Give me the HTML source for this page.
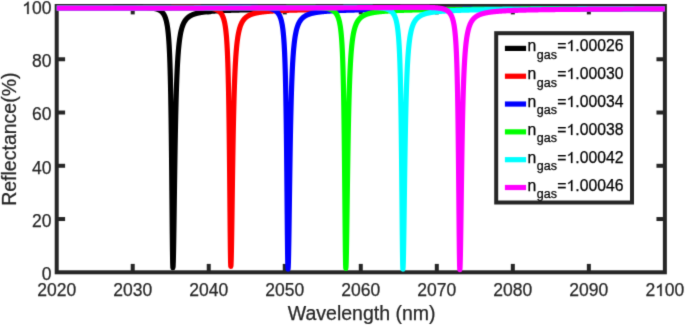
<!DOCTYPE html>
<html><head><meta charset="utf-8"><style>
html,body{margin:0;padding:0;background:#fff;width:685px;height:326px;overflow:hidden;}
svg{display:block;}
.o{fill-opacity:0;stroke-opacity:0;}
text{font-family:"Liberation Sans", sans-serif;stroke-width:0.25px;}
</style></head><body>
<svg width="685" height="326" viewBox="0 0 685 326">
<rect width="685" height="326" fill="#fff"/>
<defs><filter id="soft" filterUnits="userSpaceOnUse" x="0" y="0" width="685" height="326" color-interpolation-filters="sRGB"><feConvolveMatrix order="3" kernelMatrix="0.0144 0.0912 0.0144 0.0912 0.5776 0.0912 0.0144 0.0912 0.0144" edgeMode="duplicate"/></filter></defs>
<g filter="url(#soft)">
<g stroke="#262626" stroke-width="4"><rect x="56.70" y="6.00" width="608.16" height="266.30" fill="none" stroke="#262626" stroke-width="4"/><line x1="132.72" y1="272.30" x2="132.72" y2="263.90"/><line x1="132.72" y1="6.00" x2="132.72" y2="14.40"/><line x1="208.74" y1="272.30" x2="208.74" y2="263.90"/><line x1="208.74" y1="6.00" x2="208.74" y2="14.40"/><line x1="284.76" y1="272.30" x2="284.76" y2="263.90"/><line x1="284.76" y1="6.00" x2="284.76" y2="14.40"/><line x1="360.78" y1="272.30" x2="360.78" y2="263.90"/><line x1="360.78" y1="6.00" x2="360.78" y2="14.40"/><line x1="436.80" y1="272.30" x2="436.80" y2="263.90"/><line x1="436.80" y1="6.00" x2="436.80" y2="14.40"/><line x1="512.82" y1="272.30" x2="512.82" y2="263.90"/><line x1="512.82" y1="6.00" x2="512.82" y2="14.40"/><line x1="588.84" y1="272.30" x2="588.84" y2="263.90"/><line x1="588.84" y1="6.00" x2="588.84" y2="14.40"/><line x1="56.70" y1="219.04" x2="65.10" y2="219.04"/><line x1="664.86" y1="219.04" x2="656.46" y2="219.04"/><line x1="56.70" y1="165.78" x2="65.10" y2="165.78"/><line x1="664.86" y1="165.78" x2="656.46" y2="165.78"/><line x1="56.70" y1="112.52" x2="65.10" y2="112.52"/><line x1="664.86" y1="112.52" x2="656.46" y2="112.52"/><line x1="56.70" y1="59.26" x2="65.10" y2="59.26"/><line x1="664.86" y1="59.26" x2="656.46" y2="59.26"/></g>
<polyline points="56.70,7.78 57.70,7.77 58.70,7.77 59.70,7.76 60.70,7.76 61.70,7.76 62.70,7.75 63.70,7.75 64.70,7.75 65.70,7.74 66.70,7.74 67.70,7.73 68.70,7.73 69.70,7.73 70.70,7.72 71.70,7.72 72.70,7.71 73.70,7.71 74.70,7.70 75.70,7.70 76.70,7.69 77.70,7.69 78.70,7.68 79.70,7.68 80.70,7.67 81.70,7.67 82.70,7.66 83.70,7.66 84.70,7.65 85.70,7.65 86.70,7.64 87.70,7.64 88.70,7.63 89.70,7.63 90.70,7.62 91.70,7.62 92.70,7.61 93.70,7.60 94.70,7.60 95.70,7.59 96.70,7.59 97.70,7.58 98.70,7.57 99.70,7.57 100.70,7.56 101.70,7.55 102.70,7.55 103.70,7.54 104.70,7.53 105.70,7.53 106.70,7.52 107.70,7.51 108.70,7.51 109.70,7.50 110.70,7.49 111.70,7.49 112.70,7.48 113.70,7.47 114.70,7.47 115.70,7.46 116.70,7.45 117.70,7.44 118.70,7.44 119.70,7.43 120.70,7.42 121.70,7.42 122.70,7.41 123.70,7.41 124.70,7.40 125.70,7.40 126.70,7.39 127.70,7.39 128.70,7.38 129.70,7.38 130.70,7.38 131.70,7.37 132.70,7.37 132.90,7.37 133.10,7.37 133.30,7.37 133.50,7.37 133.70,7.37 133.90,7.38 134.10,7.38 134.30,7.38 134.50,7.38 134.70,7.38 134.90,7.38 135.10,7.38 135.30,7.38 135.50,7.38 135.70,7.38 135.90,7.38 136.10,7.38 136.30,7.38 136.50,7.38 136.70,7.39 136.90,7.39 137.10,7.39 137.30,7.39 137.50,7.39 137.70,7.39 137.90,7.39 138.10,7.40 138.30,7.40 138.50,7.40 138.70,7.40 138.90,7.41 139.10,7.41 139.30,7.41 139.50,7.41 139.70,7.42 139.90,7.42 140.10,7.42 140.30,7.42 140.50,7.43 140.70,7.43 140.90,7.43 141.10,7.44 141.30,7.44 141.50,7.45 141.70,7.45 141.90,7.45 142.10,7.46 142.30,7.46 142.50,7.47 142.70,7.47 142.90,7.48 143.10,7.49 143.30,7.49 143.50,7.50 143.70,7.50 143.90,7.51 144.10,7.52 144.30,7.52 144.50,7.53 144.70,7.54 144.90,7.54 145.10,7.55 145.30,7.56 145.50,7.57 145.70,7.58 145.90,7.59 146.10,7.60 146.30,7.61 146.50,7.62 146.70,7.63 146.90,7.64 147.10,7.65 147.30,7.66 147.50,7.67 147.70,7.69 147.90,7.70 148.10,7.71 148.30,7.73 148.50,7.74 148.70,7.75 148.90,7.77 149.10,7.79 149.30,7.80 149.50,7.82 149.70,7.84 149.90,7.85 150.10,7.87 150.30,7.89 150.50,7.91 150.70,7.93 150.90,7.95 151.10,7.98 151.30,8.00 151.50,8.02 151.70,8.05 151.90,8.07 152.10,8.10 152.30,8.13 152.50,8.16 152.70,8.18 152.90,8.22 153.10,8.25 153.30,8.28 153.50,8.31 153.70,8.35 153.90,8.38 154.10,8.42 154.30,8.46 154.50,8.50 154.70,8.54 154.90,8.58 155.10,8.63 155.30,8.68 155.50,8.72 155.70,8.77 155.90,8.83 156.10,8.88 156.30,8.94 156.50,8.99 156.70,9.05 156.90,9.12 157.10,9.18 157.30,9.25 157.50,9.32 157.70,9.39 157.90,9.47 158.10,9.55 158.30,9.63 158.50,9.72 158.70,9.81 158.90,9.90 159.10,10.00 159.30,10.11 159.50,10.21 159.70,10.32 159.90,10.44 160.10,10.56 160.30,10.69 160.50,10.82 160.70,10.97 160.90,11.11 161.10,11.27 161.30,11.43 161.50,11.60 161.70,11.78 161.90,11.97 162.10,12.16 162.30,12.37 162.50,12.59 162.70,12.83 162.90,13.07 163.10,13.33 163.30,13.61 163.50,13.90 163.70,14.21 163.90,14.54 164.10,14.89 164.30,15.27 164.50,15.67 164.70,16.09 164.90,16.55 165.10,17.04 165.30,17.57 165.50,18.13 165.70,18.74 165.90,19.40 166.10,20.11 166.30,20.88 166.50,21.71 166.70,22.63 166.90,23.62 167.10,24.71 167.30,25.90 167.50,27.21 167.70,28.66 167.90,30.26 168.10,32.04 168.30,34.03 168.50,36.24 168.70,38.73 168.90,41.53 169.10,44.70 169.30,48.29 169.50,52.39 169.70,57.08 169.90,62.47 170.10,68.70 170.30,75.90 170.50,84.27 170.70,94.00 170.90,105.33 171.10,118.47 171.30,133.65 171.50,150.96 171.70,170.33 171.90,191.34 172.10,213.06 172.30,233.86 172.50,251.51 172.70,263.49 172.90,267.77 173.10,266.17 173.30,260.81 173.50,252.18 173.70,240.97 173.90,227.97 174.10,213.92 174.30,199.50 174.50,185.21 174.70,171.44 174.90,158.44 175.10,146.33 175.30,135.18 175.50,124.99 175.70,115.72 175.90,107.34 176.10,99.76 176.30,92.91 176.50,86.74 176.70,81.16 176.90,76.13 177.10,71.57 177.30,67.44 177.50,63.69 177.70,60.29 177.90,57.19 178.10,54.36 178.30,51.77 178.50,49.40 178.70,47.22 178.90,45.23 179.10,43.38 179.30,41.68 179.50,40.11 179.70,38.66 179.90,37.31 180.10,36.05 180.30,34.89 180.50,33.80 180.70,32.78 180.90,31.83 181.10,30.94 181.30,30.11 181.50,29.32 181.70,28.59 181.90,27.89 182.10,27.24 182.30,26.62 182.50,26.04 182.70,25.49 182.90,24.97 183.10,24.48 183.30,24.01 183.50,23.56 183.70,23.14 183.90,22.74 184.10,22.35 184.30,21.99 184.50,21.64 184.70,21.31 184.90,20.99 185.10,20.69 185.30,20.40 185.50,20.12 185.70,19.85 185.90,19.60 186.10,19.35 186.30,19.12 186.50,18.89 186.70,18.67 186.90,18.47 187.10,18.26 187.30,18.07 187.50,17.88 187.70,17.70 187.90,17.53 188.10,17.36 188.30,17.20 188.50,17.05 188.70,16.90 188.90,16.75 189.10,16.61 189.30,16.47 189.50,16.34 189.70,16.21 189.90,16.09 190.10,15.97 190.30,15.85 190.50,15.74 190.70,15.63 190.90,15.52 191.10,15.42 191.30,15.32 191.50,15.22 191.70,15.12 191.90,15.03 192.10,14.94 192.30,14.85 192.50,14.77 192.70,14.69 192.90,14.61 193.10,14.53 193.30,14.45 193.50,14.38 193.70,14.30 193.90,14.23 194.10,14.16 194.30,14.09 194.50,14.03 194.70,13.96 194.90,13.90 195.10,13.84 195.30,13.78 195.50,13.72 195.70,13.66 195.90,13.61 196.10,13.55 196.30,13.50 196.50,13.44 196.70,13.39 196.90,13.34 197.10,13.29 197.30,13.24 197.50,13.20 197.70,13.15 197.90,13.10 198.10,13.06 198.30,13.02 198.50,12.97 198.70,12.93 198.90,12.89 199.10,12.85 199.30,12.81 199.50,12.77 199.70,12.73 199.90,12.69 200.10,12.66 200.30,12.62 200.50,12.58 200.70,12.55 200.90,12.51 201.10,12.48 201.30,12.45 201.50,12.42 201.70,12.38 201.90,12.35 202.10,12.32 202.30,12.29 202.50,12.26 202.70,12.23 202.90,12.20 203.10,12.17 203.30,12.14 203.50,12.12 203.70,12.09 203.90,12.06 204.10,12.04 204.30,12.01 204.50,11.98 204.70,11.96 204.90,11.93 205.10,11.91 205.30,11.88 205.50,11.86 205.70,11.84 205.90,11.81 206.10,11.79 206.30,11.77 206.50,11.75 206.70,11.72 206.90,11.70 207.10,11.68 207.30,11.66 207.50,11.64 207.70,11.62 207.90,11.60 208.10,11.58 208.30,11.56 208.50,11.54 208.70,11.52 208.90,11.50 209.10,11.48 209.30,11.46 209.50,11.45 209.70,11.43 209.90,11.41 210.10,11.39 210.30,11.38 210.50,11.36 210.70,11.34 210.90,11.32 211.10,11.31 211.30,11.29 211.50,11.28 211.70,11.26 211.90,11.24 212.10,11.23 212.30,11.21 212.50,11.20 212.70,11.18 212.90,11.17 213.10,11.15 213.30,11.14 213.50,11.12 213.70,11.11 213.90,11.10 214.10,11.08 214.30,11.07 214.50,11.05 214.70,11.04 214.90,11.03 215.10,11.01 215.30,11.00 215.50,10.99 215.70,10.97 215.90,10.96 216.10,10.95 216.30,10.94 216.50,10.92 216.70,10.91 216.90,10.90 217.10,10.89 217.30,10.88 217.50,10.86 217.70,10.85 217.90,10.84 218.10,10.83 218.30,10.82 218.50,10.81 218.70,10.80 218.90,10.79 219.10,10.78 219.30,10.76 219.50,10.75 219.70,10.74 219.90,10.73 220.10,10.72 220.30,10.71 220.50,10.70 220.70,10.69 220.90,10.68 221.10,10.67 221.30,10.66 221.50,10.65 221.70,10.64 221.90,10.63 222.10,10.62 222.30,10.61 222.50,10.61 222.70,10.60 222.90,10.59 223.10,10.58 223.30,10.57 223.50,10.56 223.70,10.55 223.90,10.54 224.10,10.53 224.30,10.52 224.50,10.52 224.70,10.51 224.90,10.50 225.10,10.49 225.30,10.48 225.50,10.47 225.70,10.47 225.90,10.46 226.10,10.45 226.30,10.44 226.50,10.43 226.70,10.43 226.90,10.42 227.10,10.41 227.30,10.40 227.50,10.40 227.70,10.39 227.90,10.38 228.10,10.37 228.30,10.37 228.50,10.36 228.70,10.35 228.90,10.34 229.10,10.34 229.30,10.33 229.50,10.32 229.70,10.32 229.90,10.31 230.10,10.30 230.30,10.30 230.50,10.29 230.70,10.28 230.90,10.28 231.10,10.27 231.30,10.26 231.50,10.26 231.70,10.25 231.90,10.24 232.10,10.24 232.30,10.23 232.50,10.22 232.70,10.22 232.90,10.21 233.90,10.18 234.90,10.15 235.90,10.12 236.90,10.09 237.90,10.07 238.90,10.04 239.90,10.02 240.90,9.99 241.90,9.97 242.90,9.94 243.90,9.92 244.90,9.90 245.90,9.88 246.90,9.86 247.90,9.84 248.90,9.82 249.90,9.80 250.90,9.78 251.90,9.76 252.90,9.75 253.90,9.73 254.90,9.71 255.90,9.70 256.90,9.68 257.90,9.66 258.90,9.65 259.90,9.63 260.90,9.62 261.90,9.60 262.90,9.59 263.90,9.58 264.90,9.56 265.90,9.55 266.90,9.54 267.90,9.53 268.90,9.51 269.90,9.50 270.90,9.49 271.90,9.48 272.90,9.47 273.90,9.45 274.90,9.44 275.90,9.43 276.90,9.42 277.90,9.41 278.90,9.40 279.90,9.39 280.90,9.38 281.90,9.37 282.90,9.36 283.90,9.35 284.90,9.34 285.90,9.34 286.90,9.33 287.90,9.32 288.90,9.31 289.90,9.30 290.90,9.29 291.90,9.29 292.90,9.28 293.90,9.27 294.90,9.26 295.90,9.25 296.90,9.25 297.90,9.24 298.90,9.23 299.90,9.22 300.90,9.22 301.90,9.21 302.90,9.20 303.90,9.20 304.90,9.19 305.90,9.18 306.90,9.18 307.90,9.17 308.90,9.16 309.90,9.16 310.90,9.15 311.90,9.15 312.90,9.14 313.90,9.13 314.90,9.13 315.90,9.12 316.90,9.12 317.90,9.11 318.90,9.11 319.90,9.10 320.90,9.10 321.90,9.09 322.90,9.09 323.90,9.08 324.90,9.08 325.90,9.07 326.90,9.07 327.90,9.06 328.90,9.06 329.90,9.05 330.90,9.05 331.90,9.04 332.90,9.04 333.90,9.03 334.90,9.03 335.90,9.02 336.90,9.02 337.90,9.01 338.90,9.01 339.90,9.01 340.90,9.00 341.90,9.00 342.90,8.99 343.90,8.99 344.90,8.99 345.90,8.98 346.90,8.98 347.90,8.97 348.90,8.97 349.90,8.97 350.90,8.96 351.90,8.96 352.90,8.96 353.90,8.95 354.90,8.95 355.90,8.94 356.90,8.94 357.90,8.94 358.90,8.93 359.90,8.93 360.90,8.93 361.90,8.92 362.90,8.92 363.90,8.92 364.90,8.91 365.90,8.91 366.90,8.91 367.90,8.90 368.90,8.90 369.90,8.90 370.90,8.90 371.90,8.89 372.90,8.89 373.90,8.89 374.90,8.88 375.90,8.88 376.90,8.88 377.90,8.88 378.90,8.87 379.90,8.87 380.90,8.87 381.90,8.86 382.90,8.86 383.90,8.86 384.90,8.86 385.90,8.85 386.90,8.85 387.90,8.85 388.90,8.85 389.90,8.84 390.90,8.84 391.90,8.84 392.90,8.84 393.90,8.83 394.90,8.83 395.90,8.83 396.90,8.83 397.90,8.82 398.90,8.82 399.90,8.82 400.90,8.82 401.90,8.81 402.90,8.81 403.90,8.81 404.90,8.81 405.90,8.80 406.90,8.80 407.90,8.80 408.90,8.80 409.90,8.80 410.90,8.79 411.90,8.79 412.90,8.79 413.90,8.79 414.90,8.79 415.90,8.78 416.90,8.78 417.90,8.78 418.90,8.78 419.90,8.78 420.90,8.77 421.90,8.77 422.90,8.77 423.90,8.77 424.90,8.77 425.90,8.76 426.90,8.76 427.90,8.76 428.90,8.76 429.90,8.76 430.90,8.75 431.90,8.75 432.90,8.75 433.90,8.75 434.90,8.75 435.90,8.75 436.90,8.74 437.90,8.74 438.90,8.74 439.90,8.74 440.90,8.74 441.90,8.74 442.90,8.73 443.90,8.73 444.90,8.73 445.90,8.73 446.90,8.73 447.90,8.73 448.90,8.72 449.90,8.72 450.90,8.72 451.90,8.72 452.90,8.72 453.90,8.72 454.90,8.71 455.90,8.71 456.90,8.71 457.90,8.71 458.90,8.71 459.90,8.71 460.90,8.71 461.90,8.70 462.90,8.70 463.90,8.70 464.90,8.70 465.90,8.70 466.90,8.70 467.90,8.70 468.90,8.69 469.90,8.69 470.90,8.69 471.90,8.69 472.90,8.69 473.90,8.69 474.90,8.69 475.90,8.68 476.90,8.68 477.90,8.68 478.90,8.68 479.90,8.68 480.90,8.68 481.90,8.68 482.90,8.68 483.90,8.67 484.90,8.67 485.90,8.67 486.90,8.67 487.90,8.67 488.90,8.67 489.90,8.67 490.90,8.67 491.90,8.66 492.90,8.66 493.90,8.66 494.90,8.66 495.90,8.66 496.90,8.66 497.90,8.66 498.90,8.66 499.90,8.65 500.90,8.65 501.90,8.65 502.90,8.65 503.90,8.65 504.90,8.65 505.90,8.65 506.90,8.65 507.90,8.65 508.90,8.64 509.90,8.64 510.90,8.64 511.90,8.64 512.90,8.64 513.90,8.64 514.90,8.64 515.90,8.64 516.90,8.64 517.90,8.63 518.90,8.63 519.90,8.63 520.90,8.63 521.90,8.63 522.90,8.63 523.90,8.63 524.90,8.63 525.90,8.63 526.90,8.63 527.90,8.62 528.90,8.62 529.90,8.62 530.90,8.62 531.90,8.62 532.90,8.62 533.90,8.62 534.90,8.62 535.90,8.62 536.90,8.62 537.90,8.62 538.90,8.61 539.90,8.61 540.90,8.61 541.90,8.61 542.90,8.61 543.90,8.61 544.90,8.61 545.90,8.61 546.90,8.61 547.90,8.61 548.90,8.61 549.90,8.60 550.90,8.60 551.90,8.60 552.90,8.60 553.90,8.60 554.90,8.60 555.90,8.60 556.90,8.60 557.90,8.60 558.90,8.60 559.90,8.60 560.90,8.60 561.90,8.59 562.90,8.59 563.90,8.59 564.90,8.59 565.90,8.59 566.90,8.59 567.90,8.59 568.90,8.59 569.90,8.59 570.90,8.59 571.90,8.59 572.90,8.59 573.90,8.58 574.90,8.58 575.90,8.58 576.90,8.58 577.90,8.58 578.90,8.58 579.90,8.58 580.90,8.58 581.90,8.58 582.90,8.58 583.90,8.58 584.90,8.58 585.90,8.58 586.90,8.57 587.90,8.57 588.90,8.57 589.90,8.57 590.90,8.57 591.90,8.57 592.90,8.57 593.90,8.57 594.90,8.57 595.90,8.57 596.90,8.57 597.90,8.57 598.90,8.57 599.90,8.57 600.90,8.56 601.90,8.56 602.90,8.56 603.90,8.56 604.90,8.56 605.90,8.56 606.90,8.56 607.90,8.56 608.90,8.56 609.90,8.56 610.90,8.56 611.90,8.56 612.90,8.56 613.90,8.56 614.90,8.56 615.90,8.56 616.90,8.55 617.90,8.55 618.90,8.55 619.90,8.55 620.90,8.55 621.90,8.55 622.90,8.55 623.90,8.55 624.90,8.55 625.90,8.55 626.90,8.55 627.90,8.55 628.90,8.55 629.90,8.55 630.90,8.55 631.90,8.55 632.90,8.54 633.90,8.54 634.90,8.54 635.90,8.54 636.90,8.54 637.90,8.54 638.90,8.54 639.90,8.54 640.90,8.54 641.90,8.54 642.90,8.54 643.90,8.54 644.90,8.54 645.90,8.54 646.90,8.54 647.90,8.54 648.90,8.54 649.90,8.53 650.90,8.53 651.90,8.53 652.90,8.53 653.90,8.53 654.90,8.53 655.90,8.53 656.90,8.53 657.90,8.53 658.90,8.53 659.90,8.53 660.90,8.53 661.90,8.53 662.90,8.53 663.90,8.53 664.80,8.53" fill="none" stroke="#000000" stroke-width="5.2" stroke-linejoin="round" stroke-linecap="butt"/>
<polyline points="56.70,7.92 57.70,7.92 58.70,7.92 59.70,7.92 60.70,7.91 61.70,7.91 62.70,7.91 63.70,7.91 64.70,7.91 65.70,7.90 66.70,7.90 67.70,7.90 68.70,7.90 69.70,7.90 70.70,7.89 71.70,7.89 72.70,7.89 73.70,7.89 74.70,7.89 75.70,7.88 76.70,7.88 77.70,7.88 78.70,7.88 79.70,7.88 80.70,7.87 81.70,7.87 82.70,7.87 83.70,7.87 84.70,7.86 85.70,7.86 86.70,7.86 87.70,7.86 88.70,7.85 89.70,7.85 90.70,7.85 91.70,7.85 92.70,7.84 93.70,7.84 94.70,7.84 95.70,7.83 96.70,7.83 97.70,7.83 98.70,7.83 99.70,7.82 100.70,7.82 101.70,7.82 102.70,7.81 103.70,7.81 104.70,7.81 105.70,7.81 106.70,7.80 107.70,7.80 108.70,7.80 109.70,7.79 110.70,7.79 111.70,7.79 112.70,7.78 113.70,7.78 114.70,7.77 115.70,7.77 116.70,7.77 117.70,7.76 118.70,7.76 119.70,7.76 120.70,7.75 121.70,7.75 122.70,7.74 123.70,7.74 124.70,7.74 125.70,7.73 126.70,7.73 127.70,7.72 128.70,7.72 129.70,7.72 130.70,7.71 131.70,7.71 132.70,7.70 133.70,7.70 134.70,7.69 135.70,7.69 136.70,7.68 137.70,7.68 138.70,7.67 139.70,7.67 140.70,7.66 141.70,7.66 142.70,7.65 143.70,7.65 144.70,7.64 145.70,7.64 146.70,7.63 147.70,7.63 148.70,7.62 149.70,7.61 150.70,7.61 151.70,7.60 152.70,7.60 153.70,7.59 154.70,7.59 155.70,7.58 156.70,7.57 157.70,7.57 158.70,7.56 159.70,7.55 160.70,7.55 161.70,7.54 162.70,7.53 163.70,7.53 164.70,7.52 165.70,7.51 166.70,7.51 167.70,7.50 168.70,7.49 169.70,7.48 170.70,7.48 171.70,7.47 172.70,7.46 173.70,7.46 174.70,7.45 175.70,7.44 176.70,7.44 177.70,7.43 178.70,7.42 179.70,7.42 180.70,7.41 181.70,7.40 182.70,7.40 183.70,7.39 184.70,7.39 185.70,7.38 186.70,7.38 187.70,7.38 188.70,7.37 189.70,7.37 190.70,7.37 190.80,7.37 191.00,7.37 191.20,7.37 191.40,7.37 191.60,7.37 191.80,7.37 192.00,7.37 192.20,7.37 192.40,7.37 192.60,7.37 192.80,7.38 193.00,7.38 193.20,7.38 193.40,7.38 193.60,7.38 193.80,7.38 194.00,7.38 194.20,7.38 194.40,7.38 194.60,7.38 194.80,7.38 195.00,7.39 195.20,7.39 195.40,7.39 195.60,7.39 195.80,7.39 196.00,7.39 196.20,7.40 196.40,7.40 196.60,7.40 196.80,7.40 197.00,7.40 197.20,7.41 197.40,7.41 197.60,7.41 197.80,7.42 198.00,7.42 198.20,7.42 198.40,7.42 198.60,7.43 198.80,7.43 199.00,7.44 199.20,7.44 199.40,7.44 199.60,7.45 199.80,7.45 200.00,7.46 200.20,7.46 200.40,7.47 200.60,7.47 200.80,7.48 201.00,7.48 201.20,7.49 201.40,7.49 201.60,7.50 201.80,7.51 202.00,7.51 202.20,7.52 202.40,7.53 202.60,7.53 202.80,7.54 203.00,7.55 203.20,7.56 203.40,7.57 203.60,7.57 203.80,7.58 204.00,7.59 204.20,7.60 204.40,7.61 204.60,7.62 204.80,7.63 205.00,7.64 205.20,7.66 205.40,7.67 205.60,7.68 205.80,7.69 206.00,7.71 206.20,7.72 206.40,7.73 206.60,7.75 206.80,7.76 207.00,7.78 207.20,7.80 207.40,7.81 207.60,7.83 207.80,7.85 208.00,7.87 208.20,7.89 208.40,7.91 208.60,7.93 208.80,7.95 209.00,7.97 209.20,7.99 209.40,8.02 209.60,8.04 209.80,8.07 210.00,8.09 210.20,8.12 210.40,8.15 210.60,8.18 210.80,8.21 211.00,8.24 211.20,8.27 211.40,8.30 211.60,8.34 211.80,8.37 212.00,8.41 212.20,8.45 212.40,8.49 212.60,8.53 212.80,8.57 213.00,8.62 213.20,8.67 213.40,8.71 213.60,8.76 213.80,8.82 214.00,8.87 214.20,8.92 214.40,8.98 214.60,9.04 214.80,9.11 215.00,9.17 215.20,9.24 215.40,9.31 215.60,9.38 215.80,9.46 216.00,9.54 216.20,9.62 216.40,9.71 216.60,9.80 216.80,9.89 217.00,9.99 217.20,10.09 217.40,10.19 217.60,10.31 217.80,10.42 218.00,10.54 218.20,10.67 218.40,10.80 218.60,10.94 218.80,11.09 219.00,11.24 219.20,11.41 219.40,11.57 219.60,11.75 219.80,11.94 220.00,12.14 220.20,12.35 220.40,12.57 220.60,12.80 220.80,13.04 221.00,13.30 221.20,13.58 221.40,13.87 221.60,14.18 221.80,14.50 222.00,14.85 222.20,15.23 222.40,15.62 222.60,16.05 222.80,16.50 223.00,16.99 223.20,17.51 223.40,18.07 223.60,18.68 223.80,19.33 224.00,20.04 224.20,20.81 224.40,21.64 224.60,22.55 224.80,23.54 225.00,24.62 225.20,25.81 225.40,27.11 225.60,28.55 225.80,30.15 226.00,31.92 226.20,33.89 226.40,36.09 226.60,38.57 226.80,41.35 227.00,44.51 227.20,48.08 227.40,52.16 227.60,56.83 227.80,62.19 228.00,68.38 228.20,75.55 228.40,83.88 228.60,93.56 228.80,104.83 229.00,117.91 229.20,133.00 229.40,150.22 229.60,169.50 229.80,190.40 230.00,212.01 230.20,232.70 230.40,250.26 230.60,262.18 230.80,266.44 231.00,264.84 231.20,259.52 231.40,250.93 231.60,239.79 231.80,226.85 232.00,212.88 232.20,198.53 232.40,184.31 232.60,170.62 232.80,157.68 233.00,145.63 233.20,134.54 233.40,124.40 233.60,115.19 233.80,106.84 234.00,99.30 234.20,92.50 234.40,86.35 234.60,80.81 234.80,75.79 235.00,71.26 235.20,67.15 235.40,63.43 235.60,60.04 235.80,56.95 236.00,54.14 236.20,51.56 236.40,49.21 236.60,47.04 236.80,45.05 237.00,43.22 237.20,41.53 237.40,39.97 237.60,38.52 237.80,37.18 238.00,35.93 238.20,34.77 238.40,33.69 238.60,32.67 238.80,31.73 239.00,30.84 239.20,30.01 239.40,29.23 239.60,28.50 239.80,27.81 240.00,27.16 240.20,26.55 240.40,25.97 240.60,25.42 240.80,24.90 241.00,24.41 241.20,23.95 241.40,23.50 241.60,23.08 241.80,22.68 242.00,22.30 242.20,21.94 242.40,21.59 242.60,21.26 242.80,20.94 243.00,20.64 243.20,20.35 243.40,20.08 243.60,19.81 243.80,19.56 244.00,19.31 244.20,19.08 244.40,18.85 244.60,18.64 244.80,18.43 245.00,18.23 245.20,18.04 245.40,17.85 245.60,17.67 245.80,17.50 246.00,17.33 246.20,17.17 246.40,17.02 246.60,16.87 246.80,16.72 247.00,16.58 247.20,16.45 247.40,16.31 247.60,16.19 247.80,16.06 248.00,15.94 248.20,15.83 248.40,15.72 248.60,15.61 248.80,15.50 249.00,15.40 249.20,15.30 249.40,15.20 249.60,15.10 249.80,15.01 250.00,14.92 250.20,14.84 250.40,14.75 250.60,14.67 250.80,14.59 251.00,14.51 251.20,14.43 251.40,14.36 251.60,14.29 251.80,14.22 252.00,14.15 252.20,14.08 252.40,14.01 252.60,13.95 252.80,13.89 253.00,13.82 253.20,13.76 253.40,13.71 253.60,13.65 253.80,13.59 254.00,13.54 254.20,13.48 254.40,13.43 254.60,13.38 254.80,13.33 255.00,13.28 255.20,13.23 255.40,13.18 255.60,13.14 255.80,13.09 256.00,13.05 256.20,13.00 256.40,12.96 256.60,12.92 256.80,12.88 257.00,12.84 257.20,12.80 257.40,12.76 257.60,12.72 257.80,12.68 258.00,12.65 258.20,12.61 258.40,12.58 258.60,12.54 258.80,12.51 259.00,12.47 259.20,12.44 259.40,12.41 259.60,12.37 259.80,12.34 260.00,12.31 260.20,12.28 260.40,12.25 260.60,12.22 260.80,12.19 261.00,12.16 261.20,12.14 261.40,12.11 261.60,12.08 261.80,12.05 262.00,12.03 262.20,12.00 262.40,11.98 262.60,11.95 262.80,11.93 263.00,11.90 263.20,11.88 263.40,11.85 263.60,11.83 263.80,11.81 264.00,11.78 264.20,11.76 264.40,11.74 264.60,11.72 264.80,11.70 265.00,11.68 265.20,11.65 265.40,11.63 265.60,11.61 265.80,11.59 266.00,11.57 266.20,11.55 266.40,11.53 266.60,11.51 266.80,11.50 267.00,11.48 267.20,11.46 267.40,11.44 267.60,11.42 267.80,11.40 268.00,11.39 268.20,11.37 268.40,11.35 268.60,11.34 268.80,11.32 269.00,11.30 269.20,11.29 269.40,11.27 269.60,11.25 269.80,11.24 270.00,11.22 270.20,11.21 270.40,11.19 270.60,11.18 270.80,11.16 271.00,11.15 271.20,11.13 271.40,11.12 271.60,11.10 271.80,11.09 272.00,11.08 272.20,11.06 272.40,11.05 272.60,11.04 272.80,11.02 273.00,11.01 273.20,11.00 273.40,10.98 273.60,10.97 273.80,10.96 274.00,10.95 274.20,10.93 274.40,10.92 274.60,10.91 274.80,10.90 275.00,10.88 275.20,10.87 275.40,10.86 275.60,10.85 275.80,10.84 276.00,10.83 276.20,10.82 276.40,10.80 276.60,10.79 276.80,10.78 277.00,10.77 277.20,10.76 277.40,10.75 277.60,10.74 277.80,10.73 278.00,10.72 278.20,10.71 278.40,10.70 278.60,10.69 278.80,10.68 279.00,10.67 279.20,10.66 279.40,10.65 279.60,10.64 279.80,10.63 280.00,10.62 280.20,10.61 280.40,10.60 280.60,10.59 280.80,10.58 281.00,10.57 281.20,10.57 281.40,10.56 281.60,10.55 281.80,10.54 282.00,10.53 282.20,10.52 282.40,10.51 282.60,10.51 282.80,10.50 283.00,10.49 283.20,10.48 283.40,10.47 283.60,10.46 283.80,10.46 284.00,10.45 284.20,10.44 284.40,10.43 284.60,10.42 284.80,10.42 285.00,10.41 285.20,10.40 285.40,10.39 285.60,10.39 285.80,10.38 286.00,10.37 286.20,10.36 286.40,10.36 286.60,10.35 286.80,10.34 287.00,10.34 287.20,10.33 287.40,10.32 287.60,10.31 287.80,10.31 288.00,10.30 288.20,10.29 288.40,10.29 288.60,10.28 288.80,10.27 289.00,10.27 289.20,10.26 289.40,10.25 289.60,10.25 289.80,10.24 290.00,10.23 290.20,10.23 290.40,10.22 290.60,10.22 290.80,10.21 291.80,10.18 292.80,10.15 293.80,10.12 294.80,10.09 295.80,10.07 296.80,10.04 297.80,10.01 298.80,9.99 299.80,9.97 300.80,9.94 301.80,9.92 302.80,9.90 303.80,9.88 304.80,9.86 305.80,9.84 306.80,9.82 307.80,9.80 308.80,9.78 309.80,9.76 310.80,9.74 311.80,9.73 312.80,9.71 313.80,9.69 314.80,9.68 315.80,9.66 316.80,9.65 317.80,9.63 318.80,9.62 319.80,9.60 320.80,9.59 321.80,9.58 322.80,9.56 323.80,9.55 324.80,9.54 325.80,9.52 326.80,9.51 327.80,9.50 328.80,9.49 329.80,9.48 330.80,9.47 331.80,9.45 332.80,9.44 333.80,9.43 334.80,9.42 335.80,9.41 336.80,9.40 337.80,9.39 338.80,9.38 339.80,9.37 340.80,9.36 341.80,9.35 342.80,9.34 343.80,9.34 344.80,9.33 345.80,9.32 346.80,9.31 347.80,9.30 348.80,9.29 349.80,9.28 350.80,9.28 351.80,9.27 352.80,9.26 353.80,9.25 354.80,9.25 355.80,9.24 356.80,9.23 357.80,9.22 358.80,9.22 359.80,9.21 360.80,9.20 361.80,9.20 362.80,9.19 363.80,9.18 364.80,9.18 365.80,9.17 366.80,9.16 367.80,9.16 368.80,9.15 369.80,9.15 370.80,9.14 371.80,9.13 372.80,9.13 373.80,9.12 374.80,9.12 375.80,9.11 376.80,9.11 377.80,9.10 378.80,9.10 379.80,9.09 380.80,9.09 381.80,9.08 382.80,9.07 383.80,9.07 384.80,9.06 385.80,9.06 386.80,9.06 387.80,9.05 388.80,9.05 389.80,9.04 390.80,9.04 391.80,9.03 392.80,9.03 393.80,9.02 394.80,9.02 395.80,9.01 396.80,9.01 397.80,9.01 398.80,9.00 399.80,9.00 400.80,8.99 401.80,8.99 402.80,8.99 403.80,8.98 404.80,8.98 405.80,8.97 406.80,8.97 407.80,8.97 408.80,8.96 409.80,8.96 410.80,8.96 411.80,8.95 412.80,8.95 413.80,8.94 414.80,8.94 415.80,8.94 416.80,8.93 417.80,8.93 418.80,8.93 419.80,8.92 420.80,8.92 421.80,8.92 422.80,8.91 423.80,8.91 424.80,8.91 425.80,8.90 426.80,8.90 427.80,8.90 428.80,8.90 429.80,8.89 430.80,8.89 431.80,8.89 432.80,8.88 433.80,8.88 434.80,8.88 435.80,8.87 436.80,8.87 437.80,8.87 438.80,8.87 439.80,8.86 440.80,8.86 441.80,8.86 442.80,8.86 443.80,8.85 444.80,8.85 445.80,8.85 446.80,8.85 447.80,8.84 448.80,8.84 449.80,8.84 450.80,8.84 451.80,8.83 452.80,8.83 453.80,8.83 454.80,8.83 455.80,8.82 456.80,8.82 457.80,8.82 458.80,8.82 459.80,8.81 460.80,8.81 461.80,8.81 462.80,8.81 463.80,8.80 464.80,8.80 465.80,8.80 466.80,8.80 467.80,8.80 468.80,8.79 469.80,8.79 470.80,8.79 471.80,8.79 472.80,8.79 473.80,8.78 474.80,8.78 475.80,8.78 476.80,8.78 477.80,8.78 478.80,8.77 479.80,8.77 480.80,8.77 481.80,8.77 482.80,8.77 483.80,8.76 484.80,8.76 485.80,8.76 486.80,8.76 487.80,8.76 488.80,8.75 489.80,8.75 490.80,8.75 491.80,8.75 492.80,8.75 493.80,8.75 494.80,8.74 495.80,8.74 496.80,8.74 497.80,8.74 498.80,8.74 499.80,8.74 500.80,8.73 501.80,8.73 502.80,8.73 503.80,8.73 504.80,8.73 505.80,8.73 506.80,8.72 507.80,8.72 508.80,8.72 509.80,8.72 510.80,8.72 511.80,8.72 512.80,8.71 513.80,8.71 514.80,8.71 515.80,8.71 516.80,8.71 517.80,8.71 518.80,8.71 519.80,8.70 520.80,8.70 521.80,8.70 522.80,8.70 523.80,8.70 524.80,8.70 525.80,8.70 526.80,8.69 527.80,8.69 528.80,8.69 529.80,8.69 530.80,8.69 531.80,8.69 532.80,8.69 533.80,8.68 534.80,8.68 535.80,8.68 536.80,8.68 537.80,8.68 538.80,8.68 539.80,8.68 540.80,8.68 541.80,8.67 542.80,8.67 543.80,8.67 544.80,8.67 545.80,8.67 546.80,8.67 547.80,8.67 548.80,8.67 549.80,8.66 550.80,8.66 551.80,8.66 552.80,8.66 553.80,8.66 554.80,8.66 555.80,8.66 556.80,8.66 557.80,8.65 558.80,8.65 559.80,8.65 560.80,8.65 561.80,8.65 562.80,8.65 563.80,8.65 564.80,8.65 565.80,8.65 566.80,8.64 567.80,8.64 568.80,8.64 569.80,8.64 570.80,8.64 571.80,8.64 572.80,8.64 573.80,8.64 574.80,8.64 575.80,8.63 576.80,8.63 577.80,8.63 578.80,8.63 579.80,8.63 580.80,8.63 581.80,8.63 582.80,8.63 583.80,8.63 584.80,8.63 585.80,8.62 586.80,8.62 587.80,8.62 588.80,8.62 589.80,8.62 590.80,8.62 591.80,8.62 592.80,8.62 593.80,8.62 594.80,8.62 595.80,8.62 596.80,8.61 597.80,8.61 598.80,8.61 599.80,8.61 600.80,8.61 601.80,8.61 602.80,8.61 603.80,8.61 604.80,8.61 605.80,8.61 606.80,8.61 607.80,8.60 608.80,8.60 609.80,8.60 610.80,8.60 611.80,8.60 612.80,8.60 613.80,8.60 614.80,8.60 615.80,8.60 616.80,8.60 617.80,8.60 618.80,8.60 619.80,8.59 620.80,8.59 621.80,8.59 622.80,8.59 623.80,8.59 624.80,8.59 625.80,8.59 626.80,8.59 627.80,8.59 628.80,8.59 629.80,8.59 630.80,8.59 631.80,8.58 632.80,8.58 633.80,8.58 634.80,8.58 635.80,8.58 636.80,8.58 637.80,8.58 638.80,8.58 639.80,8.58 640.80,8.58 641.80,8.58 642.80,8.58 643.80,8.58 644.80,8.57 645.80,8.57 646.80,8.57 647.80,8.57 648.80,8.57 649.80,8.57 650.80,8.57 651.80,8.57 652.80,8.57 653.80,8.57 654.80,8.57 655.80,8.57 656.80,8.57 657.80,8.57 658.80,8.56 659.80,8.56 660.80,8.56 661.80,8.56 662.80,8.56 663.80,8.56 664.80,8.56" fill="none" stroke="#ff0000" stroke-width="5.2" stroke-linejoin="round" stroke-linecap="butt"/>
<polyline points="56.70,8.00 57.70,8.00 58.70,8.00 59.70,8.00 60.70,8.00 61.70,8.00 62.70,7.99 63.70,7.99 64.70,7.99 65.70,7.99 66.70,7.99 67.70,7.99 68.70,7.99 69.70,7.99 70.70,7.99 71.70,7.98 72.70,7.98 73.70,7.98 74.70,7.98 75.70,7.98 76.70,7.98 77.70,7.98 78.70,7.98 79.70,7.97 80.70,7.97 81.70,7.97 82.70,7.97 83.70,7.97 84.70,7.97 85.70,7.97 86.70,7.96 87.70,7.96 88.70,7.96 89.70,7.96 90.70,7.96 91.70,7.96 92.70,7.96 93.70,7.95 94.70,7.95 95.70,7.95 96.70,7.95 97.70,7.95 98.70,7.95 99.70,7.95 100.70,7.94 101.70,7.94 102.70,7.94 103.70,7.94 104.70,7.94 105.70,7.94 106.70,7.93 107.70,7.93 108.70,7.93 109.70,7.93 110.70,7.93 111.70,7.93 112.70,7.92 113.70,7.92 114.70,7.92 115.70,7.92 116.70,7.92 117.70,7.91 118.70,7.91 119.70,7.91 120.70,7.91 121.70,7.91 122.70,7.91 123.70,7.90 124.70,7.90 125.70,7.90 126.70,7.90 127.70,7.90 128.70,7.89 129.70,7.89 130.70,7.89 131.70,7.89 132.70,7.88 133.70,7.88 134.70,7.88 135.70,7.88 136.70,7.88 137.70,7.87 138.70,7.87 139.70,7.87 140.70,7.87 141.70,7.86 142.70,7.86 143.70,7.86 144.70,7.86 145.70,7.85 146.70,7.85 147.70,7.85 148.70,7.85 149.70,7.84 150.70,7.84 151.70,7.84 152.70,7.84 153.70,7.83 154.70,7.83 155.70,7.83 156.70,7.82 157.70,7.82 158.70,7.82 159.70,7.82 160.70,7.81 161.70,7.81 162.70,7.81 163.70,7.80 164.70,7.80 165.70,7.80 166.70,7.79 167.70,7.79 168.70,7.79 169.70,7.78 170.70,7.78 171.70,7.78 172.70,7.77 173.70,7.77 174.70,7.77 175.70,7.76 176.70,7.76 177.70,7.75 178.70,7.75 179.70,7.75 180.70,7.74 181.70,7.74 182.70,7.73 183.70,7.73 184.70,7.73 185.70,7.72 186.70,7.72 187.70,7.71 188.70,7.71 189.70,7.70 190.70,7.70 191.70,7.69 192.70,7.69 193.70,7.69 194.70,7.68 195.70,7.68 196.70,7.67 197.70,7.67 198.70,7.66 199.70,7.66 200.70,7.65 201.70,7.64 202.70,7.64 203.70,7.63 204.70,7.63 205.70,7.62 206.70,7.62 207.70,7.61 208.70,7.61 209.70,7.60 210.70,7.59 211.70,7.59 212.70,7.58 213.70,7.57 214.70,7.57 215.70,7.56 216.70,7.56 217.70,7.55 218.70,7.54 219.70,7.54 220.70,7.53 221.70,7.52 222.70,7.52 223.70,7.51 224.70,7.50 225.70,7.49 226.70,7.49 227.70,7.48 228.70,7.47 229.70,7.47 230.70,7.46 231.70,7.45 232.70,7.45 233.70,7.44 234.70,7.43 235.70,7.43 236.70,7.42 237.70,7.41 238.70,7.41 239.70,7.40 240.70,7.40 241.70,7.39 242.70,7.39 243.70,7.38 244.70,7.38 245.70,7.38 246.70,7.38 247.70,7.38 248.00,7.38 248.20,7.38 248.40,7.38 248.60,7.38 248.80,7.38 249.00,7.38 249.20,7.38 249.40,7.38 249.60,7.38 249.80,7.38 250.00,7.38 250.20,7.38 250.40,7.38 250.60,7.38 250.80,7.38 251.00,7.38 251.20,7.38 251.40,7.39 251.60,7.39 251.80,7.39 252.00,7.39 252.20,7.39 252.40,7.39 252.60,7.39 252.80,7.40 253.00,7.40 253.20,7.40 253.40,7.40 253.60,7.40 253.80,7.41 254.00,7.41 254.20,7.41 254.40,7.41 254.60,7.42 254.80,7.42 255.00,7.42 255.20,7.42 255.40,7.43 255.60,7.43 255.80,7.43 256.00,7.44 256.20,7.44 256.40,7.45 256.60,7.45 256.80,7.45 257.00,7.46 257.20,7.46 257.40,7.47 257.60,7.47 257.80,7.48 258.00,7.48 258.20,7.49 258.40,7.49 258.60,7.50 258.80,7.51 259.00,7.51 259.20,7.52 259.40,7.53 259.60,7.53 259.80,7.54 260.00,7.55 260.20,7.56 260.40,7.57 260.60,7.57 260.80,7.58 261.00,7.59 261.20,7.60 261.40,7.61 261.60,7.62 261.80,7.63 262.00,7.64 262.20,7.65 262.40,7.67 262.60,7.68 262.80,7.69 263.00,7.70 263.20,7.72 263.40,7.73 263.60,7.75 263.80,7.76 264.00,7.78 264.20,7.79 264.40,7.81 264.60,7.82 264.80,7.84 265.00,7.86 265.20,7.88 265.40,7.90 265.60,7.92 265.80,7.94 266.00,7.96 266.20,7.98 266.40,8.01 266.60,8.03 266.80,8.06 267.00,8.08 267.20,8.11 267.40,8.13 267.60,8.16 267.80,8.19 268.00,8.22 268.20,8.25 268.40,8.29 268.60,8.32 268.80,8.36 269.00,8.39 269.20,8.43 269.40,8.47 269.60,8.51 269.80,8.55 270.00,8.59 270.20,8.64 270.40,8.69 270.60,8.73 270.80,8.78 271.00,8.84 271.20,8.89 271.40,8.95 271.60,9.01 271.80,9.07 272.00,9.13 272.20,9.20 272.40,9.26 272.60,9.33 272.80,9.41 273.00,9.49 273.20,9.57 273.40,9.65 273.60,9.74 273.80,9.83 274.00,9.92 274.20,10.02 274.40,10.12 274.60,10.23 274.80,10.34 275.00,10.46 275.20,10.58 275.40,10.71 275.60,10.85 275.80,10.99 276.00,11.13 276.20,11.29 276.40,11.45 276.60,11.62 276.80,11.80 277.00,11.99 277.20,12.19 277.40,12.40 277.60,12.62 277.80,12.86 278.00,13.10 278.20,13.37 278.40,13.64 278.60,13.94 278.80,14.25 279.00,14.58 279.20,14.93 279.40,15.31 279.60,15.71 279.80,16.14 280.00,16.60 280.20,17.09 280.40,17.62 280.60,18.19 280.80,18.80 281.00,19.46 281.20,20.17 281.40,20.95 281.60,21.79 281.80,22.70 282.00,23.70 282.20,24.80 282.40,25.99 282.60,27.31 282.80,28.77 283.00,30.38 283.20,32.17 283.40,34.16 283.60,36.39 283.80,38.89 284.00,41.70 284.20,44.89 284.40,48.50 284.60,52.62 284.80,57.33 285.00,62.75 285.20,69.01 285.40,76.25 285.60,84.66 285.80,94.44 286.00,105.83 286.20,119.04 286.40,134.29 286.60,151.69 286.80,171.16 287.00,192.28 287.20,214.11 287.40,235.02 287.60,252.75 287.80,264.80 288.00,269.10 288.20,267.49 288.40,262.10 288.60,253.43 288.80,242.16 289.00,229.09 289.20,214.97 289.40,200.47 289.60,186.11 289.80,172.27 290.00,159.19 290.20,147.02 290.40,135.81 290.60,125.57 290.80,116.26 291.00,107.83 291.20,100.21 291.40,93.33 291.60,87.13 291.80,81.52 292.00,76.46 292.20,71.88 292.40,67.73 292.60,63.96 292.80,60.54 293.00,57.42 293.20,54.57 293.40,51.97 293.60,49.59 293.80,47.41 294.00,45.40 294.20,43.54 294.40,41.84 294.60,40.26 294.80,38.79 295.00,37.44 295.20,36.18 295.40,35.00 295.60,33.91 295.80,32.89 296.00,31.93 296.20,31.04 296.40,30.20 296.60,29.41 296.80,28.67 297.00,27.98 297.20,27.32 297.40,26.70 297.60,26.11 297.80,25.56 298.00,25.04 298.20,24.54 298.40,24.07 298.60,23.62 298.80,23.20 299.00,22.79 299.20,22.41 299.40,22.04 299.60,21.69 299.80,21.36 300.00,21.04 300.20,20.73 300.40,20.44 300.60,20.16 300.80,19.90 301.00,19.64 301.20,19.39 301.40,19.16 301.60,18.93 301.80,18.71 302.00,18.50 302.20,18.30 302.40,18.10 302.60,17.92 302.80,17.74 303.00,17.56 303.20,17.39 303.40,17.23 303.60,17.07 303.80,16.92 304.00,16.78 304.20,16.63 304.40,16.50 304.60,16.36 304.80,16.24 305.00,16.11 305.20,15.99 305.40,15.87 305.60,15.76 305.80,15.65 306.00,15.54 306.20,15.44 306.40,15.34 306.60,15.24 306.80,15.14 307.00,15.05 307.20,14.96 307.40,14.87 307.60,14.79 307.80,14.70 308.00,14.62 308.20,14.54 308.40,14.47 308.60,14.39 308.80,14.32 309.00,14.25 309.20,14.18 309.40,14.11 309.60,14.04 309.80,13.98 310.00,13.91 310.20,13.85 310.40,13.79 310.60,13.73 310.80,13.68 311.00,13.62 311.20,13.56 311.40,13.51 311.60,13.46 311.80,13.40 312.00,13.35 312.20,13.30 312.40,13.26 312.60,13.21 312.80,13.16 313.00,13.12 313.20,13.07 313.40,13.03 313.60,12.98 313.80,12.94 314.00,12.90 314.20,12.86 314.40,12.82 314.60,12.78 314.80,12.74 315.00,12.70 315.20,12.67 315.40,12.63 315.60,12.59 315.80,12.56 316.00,12.52 316.20,12.49 316.40,12.46 316.60,12.42 316.80,12.39 317.00,12.36 317.20,12.33 317.40,12.30 317.60,12.27 317.80,12.24 318.00,12.21 318.20,12.18 318.40,12.15 318.60,12.12 318.80,12.10 319.00,12.07 319.20,12.04 319.40,12.02 319.60,11.99 319.80,11.97 320.00,11.94 320.20,11.92 320.40,11.89 320.60,11.87 320.80,11.84 321.00,11.82 321.20,11.80 321.40,11.77 321.60,11.75 321.80,11.73 322.00,11.71 322.20,11.69 322.40,11.67 322.60,11.65 322.80,11.62 323.00,11.60 323.20,11.58 323.40,11.56 323.60,11.54 323.80,11.53 324.00,11.51 324.20,11.49 324.40,11.47 324.60,11.45 324.80,11.43 325.00,11.42 325.20,11.40 325.40,11.38 325.60,11.36 325.80,11.35 326.00,11.33 326.20,11.31 326.40,11.30 326.60,11.28 326.80,11.26 327.00,11.25 327.20,11.23 327.40,11.22 327.60,11.20 327.80,11.19 328.00,11.17 328.20,11.16 328.40,11.14 328.60,11.13 328.80,11.11 329.00,11.10 329.20,11.09 329.40,11.07 329.60,11.06 329.80,11.04 330.00,11.03 330.20,11.02 330.40,11.00 330.60,10.99 330.80,10.98 331.00,10.97 331.20,10.95 331.40,10.94 331.60,10.93 331.80,10.92 332.00,10.90 332.20,10.89 332.40,10.88 332.60,10.87 332.80,10.86 333.00,10.85 333.20,10.83 333.40,10.82 333.60,10.81 333.80,10.80 334.00,10.79 334.20,10.78 334.40,10.77 334.60,10.76 334.80,10.75 335.00,10.74 335.20,10.73 335.40,10.72 335.60,10.71 335.80,10.70 336.00,10.69 336.20,10.68 336.40,10.67 336.60,10.66 336.80,10.65 337.00,10.64 337.20,10.63 337.40,10.62 337.60,10.61 337.80,10.60 338.00,10.59 338.20,10.58 338.40,10.57 338.60,10.56 338.80,10.55 339.00,10.54 339.20,10.54 339.40,10.53 339.60,10.52 339.80,10.51 340.00,10.50 340.20,10.49 340.40,10.49 340.60,10.48 340.80,10.47 341.00,10.46 341.20,10.45 341.40,10.44 341.60,10.44 341.80,10.43 342.00,10.42 342.20,10.41 342.40,10.41 342.60,10.40 342.80,10.39 343.00,10.38 343.20,10.38 343.40,10.37 343.60,10.36 343.80,10.35 344.00,10.35 344.20,10.34 344.40,10.33 344.60,10.33 344.80,10.32 345.00,10.31 345.20,10.30 345.40,10.30 345.60,10.29 345.80,10.28 346.00,10.28 346.20,10.27 346.40,10.26 346.60,10.26 346.80,10.25 347.00,10.24 347.20,10.24 347.40,10.23 347.60,10.23 347.80,10.22 348.00,10.21 349.00,10.18 350.00,10.15 351.00,10.12 352.00,10.10 353.00,10.07 354.00,10.04 355.00,10.02 356.00,9.99 357.00,9.97 358.00,9.95 359.00,9.92 360.00,9.90 361.00,9.88 362.00,9.86 363.00,9.84 364.00,9.82 365.00,9.80 366.00,9.78 367.00,9.76 368.00,9.75 369.00,9.73 370.00,9.71 371.00,9.70 372.00,9.68 373.00,9.66 374.00,9.65 375.00,9.63 376.00,9.62 377.00,9.61 378.00,9.59 379.00,9.58 380.00,9.56 381.00,9.55 382.00,9.54 383.00,9.53 384.00,9.51 385.00,9.50 386.00,9.49 387.00,9.48 388.00,9.47 389.00,9.46 390.00,9.44 391.00,9.43 392.00,9.42 393.00,9.41 394.00,9.40 395.00,9.39 396.00,9.38 397.00,9.37 398.00,9.36 399.00,9.35 400.00,9.35 401.00,9.34 402.00,9.33 403.00,9.32 404.00,9.31 405.00,9.30 406.00,9.29 407.00,9.29 408.00,9.28 409.00,9.27 410.00,9.26 411.00,9.25 412.00,9.25 413.00,9.24 414.00,9.23 415.00,9.23 416.00,9.22 417.00,9.21 418.00,9.20 419.00,9.20 420.00,9.19 421.00,9.18 422.00,9.18 423.00,9.17 424.00,9.17 425.00,9.16 426.00,9.15 427.00,9.15 428.00,9.14 429.00,9.14 430.00,9.13 431.00,9.12 432.00,9.12 433.00,9.11 434.00,9.11 435.00,9.10 436.00,9.10 437.00,9.09 438.00,9.09 439.00,9.08 440.00,9.08 441.00,9.07 442.00,9.07 443.00,9.06 444.00,9.06 445.00,9.05 446.00,9.05 447.00,9.04 448.00,9.04 449.00,9.03 450.00,9.03 451.00,9.02 452.00,9.02 453.00,9.02 454.00,9.01 455.00,9.01 456.00,9.00 457.00,9.00 458.00,8.99 459.00,8.99 460.00,8.99 461.00,8.98 462.00,8.98 463.00,8.97 464.00,8.97 465.00,8.97 466.00,8.96 467.00,8.96 468.00,8.96 469.00,8.95 470.00,8.95 471.00,8.94 472.00,8.94 473.00,8.94 474.00,8.93 475.00,8.93 476.00,8.93 477.00,8.92 478.00,8.92 479.00,8.92 480.00,8.91 481.00,8.91 482.00,8.91 483.00,8.91 484.00,8.90 485.00,8.90 486.00,8.90 487.00,8.89 488.00,8.89 489.00,8.89 490.00,8.88 491.00,8.88 492.00,8.88 493.00,8.88 494.00,8.87 495.00,8.87 496.00,8.87 497.00,8.86 498.00,8.86 499.00,8.86 500.00,8.86 501.00,8.85 502.00,8.85 503.00,8.85 504.00,8.85 505.00,8.84 506.00,8.84 507.00,8.84 508.00,8.84 509.00,8.83 510.00,8.83 511.00,8.83 512.00,8.83 513.00,8.82 514.00,8.82 515.00,8.82 516.00,8.82 517.00,8.81 518.00,8.81 519.00,8.81 520.00,8.81 521.00,8.81 522.00,8.80 523.00,8.80 524.00,8.80 525.00,8.80 526.00,8.79 527.00,8.79 528.00,8.79 529.00,8.79 530.00,8.79 531.00,8.78 532.00,8.78 533.00,8.78 534.00,8.78 535.00,8.78 536.00,8.77 537.00,8.77 538.00,8.77 539.00,8.77 540.00,8.77 541.00,8.76 542.00,8.76 543.00,8.76 544.00,8.76 545.00,8.76 546.00,8.75 547.00,8.75 548.00,8.75 549.00,8.75 550.00,8.75 551.00,8.75 552.00,8.74 553.00,8.74 554.00,8.74 555.00,8.74 556.00,8.74 557.00,8.74 558.00,8.73 559.00,8.73 560.00,8.73 561.00,8.73 562.00,8.73 563.00,8.73 564.00,8.72 565.00,8.72 566.00,8.72 567.00,8.72 568.00,8.72 569.00,8.72 570.00,8.71 571.00,8.71 572.00,8.71 573.00,8.71 574.00,8.71 575.00,8.71 576.00,8.71 577.00,8.70 578.00,8.70 579.00,8.70 580.00,8.70 581.00,8.70 582.00,8.70 583.00,8.70 584.00,8.69 585.00,8.69 586.00,8.69 587.00,8.69 588.00,8.69 589.00,8.69 590.00,8.69 591.00,8.68 592.00,8.68 593.00,8.68 594.00,8.68 595.00,8.68 596.00,8.68 597.00,8.68 598.00,8.68 599.00,8.67 600.00,8.67 601.00,8.67 602.00,8.67 603.00,8.67 604.00,8.67 605.00,8.67 606.00,8.67 607.00,8.66 608.00,8.66 609.00,8.66 610.00,8.66 611.00,8.66 612.00,8.66 613.00,8.66 614.00,8.66 615.00,8.65 616.00,8.65 617.00,8.65 618.00,8.65 619.00,8.65 620.00,8.65 621.00,8.65 622.00,8.65 623.00,8.65 624.00,8.64 625.00,8.64 626.00,8.64 627.00,8.64 628.00,8.64 629.00,8.64 630.00,8.64 631.00,8.64 632.00,8.64 633.00,8.64 634.00,8.63 635.00,8.63 636.00,8.63 637.00,8.63 638.00,8.63 639.00,8.63 640.00,8.63 641.00,8.63 642.00,8.63 643.00,8.62 644.00,8.62 645.00,8.62 646.00,8.62 647.00,8.62 648.00,8.62 649.00,8.62 650.00,8.62 651.00,8.62 652.00,8.62 653.00,8.62 654.00,8.61 655.00,8.61 656.00,8.61 657.00,8.61 658.00,8.61 659.00,8.61 660.00,8.61 661.00,8.61 662.00,8.61 663.00,8.61 664.00,8.61 664.80,8.60" fill="none" stroke="#0000ff" stroke-width="5.2" stroke-linejoin="round" stroke-linecap="butt"/>
<polyline points="56.70,8.05 57.70,8.05 58.70,8.05 59.70,8.05 60.70,8.05 61.70,8.05 62.70,8.05 63.70,8.05 64.70,8.05 65.70,8.04 66.70,8.04 67.70,8.04 68.70,8.04 69.70,8.04 70.70,8.04 71.70,8.04 72.70,8.04 73.70,8.04 74.70,8.04 75.70,8.04 76.70,8.04 77.70,8.04 78.70,8.03 79.70,8.03 80.70,8.03 81.70,8.03 82.70,8.03 83.70,8.03 84.70,8.03 85.70,8.03 86.70,8.03 87.70,8.03 88.70,8.03 89.70,8.03 90.70,8.02 91.70,8.02 92.70,8.02 93.70,8.02 94.70,8.02 95.70,8.02 96.70,8.02 97.70,8.02 98.70,8.02 99.70,8.02 100.70,8.01 101.70,8.01 102.70,8.01 103.70,8.01 104.70,8.01 105.70,8.01 106.70,8.01 107.70,8.01 108.70,8.01 109.70,8.01 110.70,8.00 111.70,8.00 112.70,8.00 113.70,8.00 114.70,8.00 115.70,8.00 116.70,8.00 117.70,8.00 118.70,8.00 119.70,8.00 120.70,7.99 121.70,7.99 122.70,7.99 123.70,7.99 124.70,7.99 125.70,7.99 126.70,7.99 127.70,7.99 128.70,7.98 129.70,7.98 130.70,7.98 131.70,7.98 132.70,7.98 133.70,7.98 134.70,7.98 135.70,7.98 136.70,7.97 137.70,7.97 138.70,7.97 139.70,7.97 140.70,7.97 141.70,7.97 142.70,7.97 143.70,7.97 144.70,7.96 145.70,7.96 146.70,7.96 147.70,7.96 148.70,7.96 149.70,7.96 150.70,7.96 151.70,7.95 152.70,7.95 153.70,7.95 154.70,7.95 155.70,7.95 156.70,7.95 157.70,7.95 158.70,7.94 159.70,7.94 160.70,7.94 161.70,7.94 162.70,7.94 163.70,7.94 164.70,7.93 165.70,7.93 166.70,7.93 167.70,7.93 168.70,7.93 169.70,7.93 170.70,7.92 171.70,7.92 172.70,7.92 173.70,7.92 174.70,7.92 175.70,7.91 176.70,7.91 177.70,7.91 178.70,7.91 179.70,7.91 180.70,7.90 181.70,7.90 182.70,7.90 183.70,7.90 184.70,7.90 185.70,7.89 186.70,7.89 187.70,7.89 188.70,7.89 189.70,7.89 190.70,7.88 191.70,7.88 192.70,7.88 193.70,7.88 194.70,7.88 195.70,7.87 196.70,7.87 197.70,7.87 198.70,7.87 199.70,7.86 200.70,7.86 201.70,7.86 202.70,7.86 203.70,7.85 204.70,7.85 205.70,7.85 206.70,7.85 207.70,7.84 208.70,7.84 209.70,7.84 210.70,7.83 211.70,7.83 212.70,7.83 213.70,7.83 214.70,7.82 215.70,7.82 216.70,7.82 217.70,7.81 218.70,7.81 219.70,7.81 220.70,7.81 221.70,7.80 222.70,7.80 223.70,7.80 224.70,7.79 225.70,7.79 226.70,7.79 227.70,7.78 228.70,7.78 229.70,7.78 230.70,7.77 231.70,7.77 232.70,7.76 233.70,7.76 234.70,7.76 235.70,7.75 236.70,7.75 237.70,7.75 238.70,7.74 239.70,7.74 240.70,7.73 241.70,7.73 242.70,7.72 243.70,7.72 244.70,7.72 245.70,7.71 246.70,7.71 247.70,7.70 248.70,7.70 249.70,7.69 250.70,7.69 251.70,7.68 252.70,7.68 253.70,7.67 254.70,7.67 255.70,7.66 256.70,7.66 257.70,7.65 258.70,7.65 259.70,7.64 260.70,7.64 261.70,7.63 262.70,7.63 263.70,7.62 264.70,7.62 265.70,7.61 266.70,7.60 267.70,7.60 268.70,7.59 269.70,7.59 270.70,7.58 271.70,7.57 272.70,7.57 273.70,7.56 274.70,7.55 275.70,7.55 276.70,7.54 277.70,7.53 278.70,7.53 279.70,7.52 280.70,7.51 281.70,7.51 282.70,7.50 283.70,7.49 284.70,7.49 285.70,7.48 286.70,7.47 287.70,7.47 288.70,7.46 289.70,7.45 290.70,7.44 291.70,7.44 292.70,7.43 293.70,7.42 294.70,7.42 295.70,7.41 296.70,7.41 297.70,7.40 298.70,7.40 299.70,7.39 300.70,7.39 301.70,7.38 302.70,7.38 303.70,7.38 304.70,7.38 305.70,7.38 305.80,7.38 306.00,7.38 306.20,7.38 306.40,7.38 306.60,7.38 306.80,7.38 307.00,7.38 307.20,7.38 307.40,7.38 307.60,7.38 307.80,7.38 308.00,7.38 308.20,7.38 308.40,7.38 308.60,7.38 308.80,7.38 309.00,7.38 309.20,7.38 309.40,7.39 309.60,7.39 309.80,7.39 310.00,7.39 310.20,7.39 310.40,7.39 310.60,7.39 310.80,7.40 311.00,7.40 311.20,7.40 311.40,7.40 311.60,7.40 311.80,7.41 312.00,7.41 312.20,7.41 312.40,7.41 312.60,7.42 312.80,7.42 313.00,7.42 313.20,7.43 313.40,7.43 313.60,7.43 313.80,7.44 314.00,7.44 314.20,7.44 314.40,7.45 314.60,7.45 314.80,7.46 315.00,7.46 315.20,7.47 315.40,7.47 315.60,7.48 315.80,7.48 316.00,7.49 316.20,7.49 316.40,7.50 316.60,7.50 316.80,7.51 317.00,7.52 317.20,7.52 317.40,7.53 317.60,7.54 317.80,7.55 318.00,7.55 318.20,7.56 318.40,7.57 318.60,7.58 318.80,7.59 319.00,7.60 319.20,7.61 319.40,7.62 319.60,7.63 319.80,7.64 320.00,7.65 320.20,7.66 320.40,7.68 320.60,7.69 320.80,7.70 321.00,7.71 321.20,7.73 321.40,7.74 321.60,7.76 321.80,7.77 322.00,7.79 322.20,7.80 322.40,7.82 322.60,7.84 322.80,7.86 323.00,7.88 323.20,7.90 323.40,7.92 323.60,7.94 323.80,7.96 324.00,7.98 324.20,8.00 324.40,8.03 324.60,8.05 324.80,8.08 325.00,8.10 325.20,8.13 325.40,8.16 325.60,8.19 325.80,8.22 326.00,8.25 326.20,8.28 326.40,8.32 326.60,8.35 326.80,8.39 327.00,8.42 327.20,8.46 327.40,8.50 327.60,8.55 327.80,8.59 328.00,8.63 328.20,8.68 328.40,8.73 328.60,8.78 328.80,8.83 329.00,8.88 329.20,8.94 329.40,9.00 329.60,9.06 329.80,9.12 330.00,9.19 330.20,9.26 330.40,9.33 330.60,9.40 330.80,9.48 331.00,9.56 331.20,9.64 331.40,9.73 331.60,9.82 331.80,9.91 332.00,10.01 332.20,10.11 332.40,10.22 332.60,10.33 332.80,10.45 333.00,10.57 333.20,10.70 333.40,10.83 333.60,10.97 333.80,11.12 334.00,11.28 334.20,11.44 334.40,11.61 334.60,11.79 334.80,11.98 335.00,12.18 335.20,12.39 335.40,12.61 335.60,12.84 335.80,13.09 336.00,13.35 336.20,13.62 336.40,13.92 336.60,14.23 336.80,14.56 337.00,14.91 337.20,15.29 337.40,15.69 337.60,16.11 337.80,16.57 338.00,17.06 338.20,17.59 338.40,18.15 338.60,18.76 338.80,19.42 339.00,20.13 339.20,20.91 339.40,21.74 339.60,22.66 339.80,23.65 340.00,24.74 340.20,25.94 340.40,27.25 340.60,28.70 340.80,30.31 341.00,32.09 341.20,34.08 341.40,36.30 341.60,38.79 341.80,41.60 342.00,44.77 342.20,48.37 342.40,52.48 342.60,57.18 342.80,62.59 343.00,68.82 343.20,76.04 343.40,84.42 343.60,94.18 343.80,105.53 344.00,118.70 344.20,133.90 344.40,151.25 344.60,170.66 344.80,191.72 345.00,213.48 345.20,234.32 345.40,252.00 345.60,264.01 345.80,268.31 346.00,266.69 346.20,261.33 346.40,252.68 346.60,241.45 346.80,228.42 347.00,214.34 347.20,199.89 347.40,185.57 347.60,171.77 347.80,158.74 348.00,146.60 348.20,135.43 348.40,125.22 348.60,115.94 348.80,107.53 349.00,99.94 349.20,93.08 349.40,86.89 349.60,81.31 349.80,76.26 350.00,71.69 350.20,67.55 350.40,63.80 350.60,60.39 350.80,57.28 351.00,54.44 351.20,51.85 351.40,49.48 351.60,47.30 351.80,45.29 352.00,43.45 352.20,41.74 352.40,40.17 352.60,38.71 352.80,37.36 353.00,36.10 353.20,34.93 353.40,33.84 353.60,32.82 353.80,31.87 354.00,30.98 354.20,30.14 354.40,29.36 354.60,28.62 354.80,27.93 355.00,27.27 355.20,26.65 355.40,26.07 355.60,25.52 355.80,25.00 356.00,24.50 356.20,24.03 356.40,23.59 356.60,23.16 356.80,22.76 357.00,22.38 357.20,22.01 357.40,21.66 357.60,21.33 357.80,21.01 358.00,20.71 358.20,20.42 358.40,20.14 358.60,19.87 358.80,19.61 359.00,19.37 359.20,19.13 359.40,18.91 359.60,18.69 359.80,18.48 360.00,18.28 360.20,18.08 360.40,17.90 360.60,17.72 360.80,17.54 361.00,17.38 361.20,17.21 361.40,17.06 361.60,16.91 361.80,16.76 362.00,16.62 362.20,16.48 362.40,16.35 362.60,16.22 362.80,16.10 363.00,15.98 363.20,15.86 363.40,15.75 363.60,15.64 363.80,15.53 364.00,15.43 364.20,15.33 364.40,15.23 364.60,15.13 364.80,15.04 365.00,14.95 365.20,14.86 365.40,14.78 365.60,14.69 365.80,14.61 366.00,14.53 366.20,14.46 366.40,14.38 366.60,14.31 366.80,14.24 367.00,14.17 367.20,14.10 367.40,14.03 367.60,13.97 367.80,13.91 368.00,13.84 368.20,13.78 368.40,13.72 368.60,13.67 368.80,13.61 369.00,13.56 369.20,13.50 369.40,13.45 369.60,13.40 369.80,13.35 370.00,13.30 370.20,13.25 370.40,13.20 370.60,13.15 370.80,13.11 371.00,13.06 371.20,13.02 371.40,12.98 371.60,12.93 371.80,12.89 372.00,12.85 372.20,12.81 372.40,12.77 372.60,12.73 372.80,12.70 373.00,12.66 373.20,12.62 373.40,12.59 373.60,12.55 373.80,12.52 374.00,12.48 374.20,12.45 374.40,12.42 374.60,12.39 374.80,12.35 375.00,12.32 375.20,12.29 375.40,12.26 375.60,12.23 375.80,12.20 376.00,12.18 376.20,12.15 376.40,12.12 376.60,12.09 376.80,12.06 377.00,12.04 377.20,12.01 377.40,11.99 377.60,11.96 377.80,11.94 378.00,11.91 378.20,11.89 378.40,11.86 378.60,11.84 378.80,11.82 379.00,11.79 379.20,11.77 379.40,11.75 379.60,11.73 379.80,11.70 380.00,11.68 380.20,11.66 380.40,11.64 380.60,11.62 380.80,11.60 381.00,11.58 381.20,11.56 381.40,11.54 381.60,11.52 381.80,11.50 382.00,11.48 382.20,11.47 382.40,11.45 382.60,11.43 382.80,11.41 383.00,11.39 383.20,11.38 383.40,11.36 383.60,11.34 383.80,11.33 384.00,11.31 384.20,11.29 384.40,11.28 384.60,11.26 384.80,11.25 385.00,11.23 385.20,11.21 385.40,11.20 385.60,11.18 385.80,11.17 386.00,11.15 386.20,11.14 386.40,11.13 386.60,11.11 386.80,11.10 387.00,11.08 387.20,11.07 387.40,11.06 387.60,11.04 387.80,11.03 388.00,11.02 388.20,11.00 388.40,10.99 388.60,10.98 388.80,10.96 389.00,10.95 389.20,10.94 389.40,10.93 389.60,10.91 389.80,10.90 390.00,10.89 390.20,10.88 390.40,10.87 390.60,10.85 390.80,10.84 391.00,10.83 391.20,10.82 391.40,10.81 391.60,10.80 391.80,10.79 392.00,10.78 392.20,10.77 392.40,10.76 392.60,10.74 392.80,10.73 393.00,10.72 393.20,10.71 393.40,10.70 393.60,10.69 393.80,10.68 394.00,10.67 394.20,10.66 394.40,10.65 394.60,10.64 394.80,10.63 395.00,10.63 395.20,10.62 395.40,10.61 395.60,10.60 395.80,10.59 396.00,10.58 396.20,10.57 396.40,10.56 396.60,10.55 396.80,10.54 397.00,10.53 397.20,10.53 397.40,10.52 397.60,10.51 397.80,10.50 398.00,10.49 398.20,10.48 398.40,10.48 398.60,10.47 398.80,10.46 399.00,10.45 399.20,10.44 399.40,10.44 399.60,10.43 399.80,10.42 400.00,10.41 400.20,10.40 400.40,10.40 400.60,10.39 400.80,10.38 401.00,10.37 401.20,10.37 401.40,10.36 401.60,10.35 401.80,10.35 402.00,10.34 402.20,10.33 402.40,10.32 402.60,10.32 402.80,10.31 403.00,10.30 403.20,10.30 403.40,10.29 403.60,10.28 403.80,10.28 404.00,10.27 404.20,10.26 404.40,10.26 404.60,10.25 404.80,10.24 405.00,10.24 405.20,10.23 405.40,10.22 405.60,10.22 405.80,10.21 406.80,10.18 407.80,10.15 408.80,10.12 409.80,10.10 410.80,10.07 411.80,10.04 412.80,10.02 413.80,9.99 414.80,9.97 415.80,9.95 416.80,9.92 417.80,9.90 418.80,9.88 419.80,9.86 420.80,9.84 421.80,9.82 422.80,9.80 423.80,9.78 424.80,9.76 425.80,9.75 426.80,9.73 427.80,9.71 428.80,9.70 429.80,9.68 430.80,9.66 431.80,9.65 432.80,9.63 433.80,9.62 434.80,9.61 435.80,9.59 436.80,9.58 437.80,9.56 438.80,9.55 439.80,9.54 440.80,9.53 441.80,9.51 442.80,9.50 443.80,9.49 444.80,9.48 445.80,9.47 446.80,9.46 447.80,9.44 448.80,9.43 449.80,9.42 450.80,9.41 451.80,9.40 452.80,9.39 453.80,9.38 454.80,9.37 455.80,9.36 456.80,9.35 457.80,9.35 458.80,9.34 459.80,9.33 460.80,9.32 461.80,9.31 462.80,9.30 463.80,9.29 464.80,9.29 465.80,9.28 466.80,9.27 467.80,9.26 468.80,9.25 469.80,9.25 470.80,9.24 471.80,9.23 472.80,9.22 473.80,9.22 474.80,9.21 475.80,9.20 476.80,9.20 477.80,9.19 478.80,9.18 479.80,9.18 480.80,9.17 481.80,9.16 482.80,9.16 483.80,9.15 484.80,9.15 485.80,9.14 486.80,9.13 487.80,9.13 488.80,9.12 489.80,9.12 490.80,9.11 491.80,9.11 492.80,9.10 493.80,9.10 494.80,9.09 495.80,9.09 496.80,9.08 497.80,9.08 498.80,9.07 499.80,9.07 500.80,9.06 501.80,9.06 502.80,9.05 503.80,9.05 504.80,9.04 505.80,9.04 506.80,9.03 507.80,9.03 508.80,9.02 509.80,9.02 510.80,9.01 511.80,9.01 512.80,9.01 513.80,9.00 514.80,9.00 515.80,8.99 516.80,8.99 517.80,8.99 518.80,8.98 519.80,8.98 520.80,8.97 521.80,8.97 522.80,8.97 523.80,8.96 524.80,8.96 525.80,8.96 526.80,8.95 527.80,8.95 528.80,8.94 529.80,8.94 530.80,8.94 531.80,8.93 532.80,8.93 533.80,8.93 534.80,8.92 535.80,8.92 536.80,8.92 537.80,8.91 538.80,8.91 539.80,8.91 540.80,8.90 541.80,8.90 542.80,8.90 543.80,8.90 544.80,8.89 545.80,8.89 546.80,8.89 547.80,8.88 548.80,8.88 549.80,8.88 550.80,8.88 551.80,8.87 552.80,8.87 553.80,8.87 554.80,8.86 555.80,8.86 556.80,8.86 557.80,8.86 558.80,8.85 559.80,8.85 560.80,8.85 561.80,8.85 562.80,8.84 563.80,8.84 564.80,8.84 565.80,8.84 566.80,8.83 567.80,8.83 568.80,8.83 569.80,8.83 570.80,8.82 571.80,8.82 572.80,8.82 573.80,8.82 574.80,8.81 575.80,8.81 576.80,8.81 577.80,8.81 578.80,8.80 579.80,8.80 580.80,8.80 581.80,8.80 582.80,8.80 583.80,8.79 584.80,8.79 585.80,8.79 586.80,8.79 587.80,8.79 588.80,8.78 589.80,8.78 590.80,8.78 591.80,8.78 592.80,8.78 593.80,8.77 594.80,8.77 595.80,8.77 596.80,8.77 597.80,8.77 598.80,8.76 599.80,8.76 600.80,8.76 601.80,8.76 602.80,8.76 603.80,8.75 604.80,8.75 605.80,8.75 606.80,8.75 607.80,8.75 608.80,8.75 609.80,8.74 610.80,8.74 611.80,8.74 612.80,8.74 613.80,8.74 614.80,8.74 615.80,8.73 616.80,8.73 617.80,8.73 618.80,8.73 619.80,8.73 620.80,8.73 621.80,8.72 622.80,8.72 623.80,8.72 624.80,8.72 625.80,8.72 626.80,8.72 627.80,8.71 628.80,8.71 629.80,8.71 630.80,8.71 631.80,8.71 632.80,8.71 633.80,8.71 634.80,8.70 635.80,8.70 636.80,8.70 637.80,8.70 638.80,8.70 639.80,8.70 640.80,8.70 641.80,8.69 642.80,8.69 643.80,8.69 644.80,8.69 645.80,8.69 646.80,8.69 647.80,8.69 648.80,8.68 649.80,8.68 650.80,8.68 651.80,8.68 652.80,8.68 653.80,8.68 654.80,8.68 655.80,8.68 656.80,8.67 657.80,8.67 658.80,8.67 659.80,8.67 660.80,8.67 661.80,8.67 662.80,8.67 663.80,8.67 664.80,8.66" fill="none" stroke="#00ff00" stroke-width="5.2" stroke-linejoin="round" stroke-linecap="butt"/>
<polyline points="56.70,8.08 57.70,8.08 58.70,8.08 59.70,8.08 60.70,8.08 61.70,8.08 62.70,8.08 63.70,8.08 64.70,8.08 65.70,8.08 66.70,8.08 67.70,8.08 68.70,8.08 69.70,8.08 70.70,8.08 71.70,8.08 72.70,8.08 73.70,8.08 74.70,8.08 75.70,8.07 76.70,8.07 77.70,8.07 78.70,8.07 79.70,8.07 80.70,8.07 81.70,8.07 82.70,8.07 83.70,8.07 84.70,8.07 85.70,8.07 86.70,8.07 87.70,8.07 88.70,8.07 89.70,8.07 90.70,8.07 91.70,8.07 92.70,8.06 93.70,8.06 94.70,8.06 95.70,8.06 96.70,8.06 97.70,8.06 98.70,8.06 99.70,8.06 100.70,8.06 101.70,8.06 102.70,8.06 103.70,8.06 104.70,8.06 105.70,8.06 106.70,8.06 107.70,8.06 108.70,8.05 109.70,8.05 110.70,8.05 111.70,8.05 112.70,8.05 113.70,8.05 114.70,8.05 115.70,8.05 116.70,8.05 117.70,8.05 118.70,8.05 119.70,8.05 120.70,8.05 121.70,8.05 122.70,8.04 123.70,8.04 124.70,8.04 125.70,8.04 126.70,8.04 127.70,8.04 128.70,8.04 129.70,8.04 130.70,8.04 131.70,8.04 132.70,8.04 133.70,8.04 134.70,8.04 135.70,8.03 136.70,8.03 137.70,8.03 138.70,8.03 139.70,8.03 140.70,8.03 141.70,8.03 142.70,8.03 143.70,8.03 144.70,8.03 145.70,8.03 146.70,8.03 147.70,8.02 148.70,8.02 149.70,8.02 150.70,8.02 151.70,8.02 152.70,8.02 153.70,8.02 154.70,8.02 155.70,8.02 156.70,8.02 157.70,8.02 158.70,8.01 159.70,8.01 160.70,8.01 161.70,8.01 162.70,8.01 163.70,8.01 164.70,8.01 165.70,8.01 166.70,8.01 167.70,8.01 168.70,8.00 169.70,8.00 170.70,8.00 171.70,8.00 172.70,8.00 173.70,8.00 174.70,8.00 175.70,8.00 176.70,8.00 177.70,7.99 178.70,7.99 179.70,7.99 180.70,7.99 181.70,7.99 182.70,7.99 183.70,7.99 184.70,7.99 185.70,7.99 186.70,7.98 187.70,7.98 188.70,7.98 189.70,7.98 190.70,7.98 191.70,7.98 192.70,7.98 193.70,7.98 194.70,7.97 195.70,7.97 196.70,7.97 197.70,7.97 198.70,7.97 199.70,7.97 200.70,7.97 201.70,7.96 202.70,7.96 203.70,7.96 204.70,7.96 205.70,7.96 206.70,7.96 207.70,7.96 208.70,7.95 209.70,7.95 210.70,7.95 211.70,7.95 212.70,7.95 213.70,7.95 214.70,7.95 215.70,7.94 216.70,7.94 217.70,7.94 218.70,7.94 219.70,7.94 220.70,7.94 221.70,7.93 222.70,7.93 223.70,7.93 224.70,7.93 225.70,7.93 226.70,7.93 227.70,7.92 228.70,7.92 229.70,7.92 230.70,7.92 231.70,7.92 232.70,7.91 233.70,7.91 234.70,7.91 235.70,7.91 236.70,7.91 237.70,7.91 238.70,7.90 239.70,7.90 240.70,7.90 241.70,7.90 242.70,7.90 243.70,7.89 244.70,7.89 245.70,7.89 246.70,7.89 247.70,7.88 248.70,7.88 249.70,7.88 250.70,7.88 251.70,7.88 252.70,7.87 253.70,7.87 254.70,7.87 255.70,7.87 256.70,7.86 257.70,7.86 258.70,7.86 259.70,7.86 260.70,7.85 261.70,7.85 262.70,7.85 263.70,7.85 264.70,7.84 265.70,7.84 266.70,7.84 267.70,7.84 268.70,7.83 269.70,7.83 270.70,7.83 271.70,7.82 272.70,7.82 273.70,7.82 274.70,7.81 275.70,7.81 276.70,7.81 277.70,7.81 278.70,7.80 279.70,7.80 280.70,7.80 281.70,7.79 282.70,7.79 283.70,7.79 284.70,7.78 285.70,7.78 286.70,7.78 287.70,7.77 288.70,7.77 289.70,7.76 290.70,7.76 291.70,7.76 292.70,7.75 293.70,7.75 294.70,7.75 295.70,7.74 296.70,7.74 297.70,7.73 298.70,7.73 299.70,7.73 300.70,7.72 301.70,7.72 302.70,7.71 303.70,7.71 304.70,7.70 305.70,7.70 306.70,7.69 307.70,7.69 308.70,7.68 309.70,7.68 310.70,7.68 311.70,7.67 312.70,7.67 313.70,7.66 314.70,7.65 315.70,7.65 316.70,7.64 317.70,7.64 318.70,7.63 319.70,7.63 320.70,7.62 321.70,7.62 322.70,7.61 323.70,7.60 324.70,7.60 325.70,7.59 326.70,7.59 327.70,7.58 328.70,7.57 329.70,7.57 330.70,7.56 331.70,7.56 332.70,7.55 333.70,7.54 334.70,7.54 335.70,7.53 336.70,7.52 337.70,7.51 338.70,7.51 339.70,7.50 340.70,7.49 341.70,7.49 342.70,7.48 343.70,7.47 344.70,7.47 345.70,7.46 346.70,7.45 347.70,7.45 348.70,7.44 349.70,7.43 350.70,7.43 351.70,7.42 352.70,7.41 353.70,7.41 354.70,7.40 355.70,7.40 356.70,7.39 357.70,7.39 358.70,7.38 359.70,7.38 360.70,7.38 361.70,7.38 362.70,7.38 362.90,7.38 363.10,7.38 363.30,7.38 363.50,7.38 363.70,7.38 363.90,7.38 364.10,7.38 364.30,7.38 364.50,7.38 364.70,7.38 364.90,7.38 365.10,7.38 365.30,7.38 365.50,7.38 365.70,7.38 365.90,7.38 366.10,7.38 366.30,7.39 366.50,7.39 366.70,7.39 366.90,7.39 367.10,7.39 367.30,7.39 367.50,7.39 367.70,7.40 367.90,7.40 368.10,7.40 368.30,7.40 368.50,7.40 368.70,7.41 368.90,7.41 369.10,7.41 369.30,7.41 369.50,7.42 369.70,7.42 369.90,7.42 370.10,7.42 370.30,7.43 370.50,7.43 370.70,7.43 370.90,7.44 371.10,7.44 371.30,7.45 371.50,7.45 371.70,7.45 371.90,7.46 372.10,7.46 372.30,7.47 372.50,7.47 372.70,7.48 372.90,7.48 373.10,7.49 373.30,7.49 373.50,7.50 373.70,7.51 373.90,7.51 374.10,7.52 374.30,7.53 374.50,7.53 374.70,7.54 374.90,7.55 375.10,7.56 375.30,7.57 375.50,7.57 375.70,7.58 375.90,7.59 376.10,7.60 376.30,7.61 376.50,7.62 376.70,7.63 376.90,7.64 377.10,7.65 377.30,7.67 377.50,7.68 377.70,7.69 377.90,7.70 378.10,7.72 378.30,7.73 378.50,7.75 378.70,7.76 378.90,7.78 379.10,7.79 379.30,7.81 379.50,7.82 379.70,7.84 379.90,7.86 380.10,7.88 380.30,7.90 380.50,7.92 380.70,7.94 380.90,7.96 381.10,7.98 381.30,8.01 381.50,8.03 381.70,8.06 381.90,8.08 382.10,8.11 382.30,8.13 382.50,8.16 382.70,8.19 382.90,8.22 383.10,8.25 383.30,8.29 383.50,8.32 383.70,8.36 383.90,8.39 384.10,8.43 384.30,8.47 384.50,8.51 384.70,8.55 384.90,8.59 385.10,8.64 385.30,8.69 385.50,8.73 385.70,8.78 385.90,8.84 386.10,8.89 386.30,8.95 386.50,9.01 386.70,9.07 386.90,9.13 387.10,9.20 387.30,9.26 387.50,9.33 387.70,9.41 387.90,9.49 388.10,9.57 388.30,9.65 388.50,9.74 388.70,9.83 388.90,9.92 389.10,10.02 389.30,10.12 389.50,10.23 389.70,10.34 389.90,10.46 390.10,10.58 390.30,10.71 390.50,10.85 390.70,10.99 390.90,11.13 391.10,11.29 391.30,11.45 391.50,11.62 391.70,11.80 391.90,11.99 392.10,12.19 392.30,12.40 392.50,12.62 392.70,12.86 392.90,13.10 393.10,13.37 393.30,13.64 393.50,13.94 393.70,14.25 393.90,14.58 394.10,14.93 394.30,15.31 394.50,15.71 394.70,16.14 394.90,16.60 395.10,17.09 395.30,17.62 395.50,18.19 395.70,18.80 395.90,19.46 396.10,20.17 396.30,20.95 396.50,21.79 396.70,22.70 396.90,23.70 397.10,24.80 397.30,25.99 397.50,27.31 397.70,28.77 397.90,30.38 398.10,32.17 398.30,34.16 398.50,36.39 398.70,38.89 398.90,41.70 399.10,44.89 399.30,48.50 399.50,52.62 399.70,57.33 399.90,62.75 400.10,69.01 400.30,76.25 400.50,84.66 400.70,94.44 400.90,105.83 401.10,119.04 401.30,134.29 401.50,151.69 401.70,171.16 401.90,192.28 402.10,214.11 402.30,235.02 402.50,252.75 402.70,264.80 402.90,269.10 403.10,267.49 403.30,262.10 403.50,253.43 403.70,242.16 403.90,229.09 404.10,214.97 404.30,200.47 404.50,186.11 404.70,172.27 404.90,159.19 405.10,147.02 405.30,135.81 405.50,125.57 405.70,116.26 405.90,107.83 406.10,100.21 406.30,93.33 406.50,87.13 406.70,81.52 406.90,76.46 407.10,71.88 407.30,67.73 407.50,63.96 407.70,60.54 407.90,57.42 408.10,54.57 408.30,51.97 408.50,49.59 408.70,47.41 408.90,45.40 409.10,43.54 409.30,41.84 409.50,40.26 409.70,38.79 409.90,37.44 410.10,36.18 410.30,35.00 410.50,33.91 410.70,32.89 410.90,31.93 411.10,31.04 411.30,30.20 411.50,29.41 411.70,28.67 411.90,27.98 412.10,27.32 412.30,26.70 412.50,26.11 412.70,25.56 412.90,25.04 413.10,24.54 413.30,24.07 413.50,23.62 413.70,23.20 413.90,22.79 414.10,22.41 414.30,22.04 414.50,21.69 414.70,21.36 414.90,21.04 415.10,20.73 415.30,20.44 415.50,20.16 415.70,19.90 415.90,19.64 416.10,19.39 416.30,19.16 416.50,18.93 416.70,18.71 416.90,18.50 417.10,18.30 417.30,18.10 417.50,17.92 417.70,17.74 417.90,17.56 418.10,17.39 418.30,17.23 418.50,17.07 418.70,16.92 418.90,16.78 419.10,16.63 419.30,16.50 419.50,16.36 419.70,16.24 419.90,16.11 420.10,15.99 420.30,15.87 420.50,15.76 420.70,15.65 420.90,15.54 421.10,15.44 421.30,15.34 421.50,15.24 421.70,15.14 421.90,15.05 422.10,14.96 422.30,14.87 422.50,14.79 422.70,14.70 422.90,14.62 423.10,14.54 423.30,14.47 423.50,14.39 423.70,14.32 423.90,14.25 424.10,14.18 424.30,14.11 424.50,14.04 424.70,13.98 424.90,13.91 425.10,13.85 425.30,13.79 425.50,13.73 425.70,13.68 425.90,13.62 426.10,13.56 426.30,13.51 426.50,13.46 426.70,13.40 426.90,13.35 427.10,13.30 427.30,13.26 427.50,13.21 427.70,13.16 427.90,13.12 428.10,13.07 428.30,13.03 428.50,12.98 428.70,12.94 428.90,12.90 429.10,12.86 429.30,12.82 429.50,12.78 429.70,12.74 429.90,12.70 430.10,12.67 430.30,12.63 430.50,12.59 430.70,12.56 430.90,12.52 431.10,12.49 431.30,12.46 431.50,12.42 431.70,12.39 431.90,12.36 432.10,12.33 432.30,12.30 432.50,12.27 432.70,12.24 432.90,12.21 433.10,12.18 433.30,12.15 433.50,12.12 433.70,12.10 433.90,12.07 434.10,12.04 434.30,12.02 434.50,11.99 434.70,11.97 434.90,11.94 435.10,11.92 435.30,11.89 435.50,11.87 435.70,11.84 435.90,11.82 436.10,11.80 436.30,11.77 436.50,11.75 436.70,11.73 436.90,11.71 437.10,11.69 437.30,11.67 437.50,11.65 437.70,11.62 437.90,11.60 438.10,11.58 438.30,11.56 438.50,11.54 438.70,11.53 438.90,11.51 439.10,11.49 439.30,11.47 439.50,11.45 439.70,11.43 439.90,11.42 440.10,11.40 440.30,11.38 440.50,11.36 440.70,11.35 440.90,11.33 441.10,11.31 441.30,11.30 441.50,11.28 441.70,11.26 441.90,11.25 442.10,11.23 442.30,11.22 442.50,11.20 442.70,11.19 442.90,11.17 443.10,11.16 443.30,11.14 443.50,11.13 443.70,11.11 443.90,11.10 444.10,11.09 444.30,11.07 444.50,11.06 444.70,11.04 444.90,11.03 445.10,11.02 445.30,11.00 445.50,10.99 445.70,10.98 445.90,10.97 446.10,10.95 446.30,10.94 446.50,10.93 446.70,10.92 446.90,10.90 447.10,10.89 447.30,10.88 447.50,10.87 447.70,10.86 447.90,10.85 448.10,10.83 448.30,10.82 448.50,10.81 448.70,10.80 448.90,10.79 449.10,10.78 449.30,10.77 449.50,10.76 449.70,10.75 449.90,10.74 450.10,10.73 450.30,10.72 450.50,10.71 450.70,10.70 450.90,10.69 451.10,10.68 451.30,10.67 451.50,10.66 451.70,10.65 451.90,10.64 452.10,10.63 452.30,10.62 452.50,10.61 452.70,10.60 452.90,10.59 453.10,10.58 453.30,10.57 453.50,10.56 453.70,10.55 453.90,10.54 454.10,10.54 454.30,10.53 454.50,10.52 454.70,10.51 454.90,10.50 455.10,10.49 455.30,10.49 455.50,10.48 455.70,10.47 455.90,10.46 456.10,10.45 456.30,10.44 456.50,10.44 456.70,10.43 456.90,10.42 457.10,10.41 457.30,10.41 457.50,10.40 457.70,10.39 457.90,10.38 458.10,10.38 458.30,10.37 458.50,10.36 458.70,10.35 458.90,10.35 459.10,10.34 459.30,10.33 459.50,10.33 459.70,10.32 459.90,10.31 460.10,10.30 460.30,10.30 460.50,10.29 460.70,10.28 460.90,10.28 461.10,10.27 461.30,10.26 461.50,10.26 461.70,10.25 461.90,10.24 462.10,10.24 462.30,10.23 462.50,10.23 462.70,10.22 462.90,10.21 463.90,10.18 464.90,10.15 465.90,10.12 466.90,10.10 467.90,10.07 468.90,10.04 469.90,10.02 470.90,9.99 471.90,9.97 472.90,9.95 473.90,9.92 474.90,9.90 475.90,9.88 476.90,9.86 477.90,9.84 478.90,9.82 479.90,9.80 480.90,9.78 481.90,9.76 482.90,9.75 483.90,9.73 484.90,9.71 485.90,9.70 486.90,9.68 487.90,9.66 488.90,9.65 489.90,9.63 490.90,9.62 491.90,9.61 492.90,9.59 493.90,9.58 494.90,9.56 495.90,9.55 496.90,9.54 497.90,9.53 498.90,9.51 499.90,9.50 500.90,9.49 501.90,9.48 502.90,9.47 503.90,9.46 504.90,9.44 505.90,9.43 506.90,9.42 507.90,9.41 508.90,9.40 509.90,9.39 510.90,9.38 511.90,9.37 512.90,9.36 513.90,9.35 514.90,9.35 515.90,9.34 516.90,9.33 517.90,9.32 518.90,9.31 519.90,9.30 520.90,9.29 521.90,9.29 522.90,9.28 523.90,9.27 524.90,9.26 525.90,9.25 526.90,9.25 527.90,9.24 528.90,9.23 529.90,9.23 530.90,9.22 531.90,9.21 532.90,9.20 533.90,9.20 534.90,9.19 535.90,9.18 536.90,9.18 537.90,9.17 538.90,9.17 539.90,9.16 540.90,9.15 541.90,9.15 542.90,9.14 543.90,9.14 544.90,9.13 545.90,9.12 546.90,9.12 547.90,9.11 548.90,9.11 549.90,9.10 550.90,9.10 551.90,9.09 552.90,9.09 553.90,9.08 554.90,9.08 555.90,9.07 556.90,9.07 557.90,9.06 558.90,9.06 559.90,9.05 560.90,9.05 561.90,9.04 562.90,9.04 563.90,9.03 564.90,9.03 565.90,9.02 566.90,9.02 567.90,9.02 568.90,9.01 569.90,9.01 570.90,9.00 571.90,9.00 572.90,8.99 573.90,8.99 574.90,8.99 575.90,8.98 576.90,8.98 577.90,8.97 578.90,8.97 579.90,8.97 580.90,8.96 581.90,8.96 582.90,8.96 583.90,8.95 584.90,8.95 585.90,8.94 586.90,8.94 587.90,8.94 588.90,8.93 589.90,8.93 590.90,8.93 591.90,8.92 592.90,8.92 593.90,8.92 594.90,8.91 595.90,8.91 596.90,8.91 597.90,8.91 598.90,8.90 599.90,8.90 600.90,8.90 601.90,8.89 602.90,8.89 603.90,8.89 604.90,8.88 605.90,8.88 606.90,8.88 607.90,8.88 608.90,8.87 609.90,8.87 610.90,8.87 611.90,8.86 612.90,8.86 613.90,8.86 614.90,8.86 615.90,8.85 616.90,8.85 617.90,8.85 618.90,8.85 619.90,8.84 620.90,8.84 621.90,8.84 622.90,8.84 623.90,8.83 624.90,8.83 625.90,8.83 626.90,8.83 627.90,8.82 628.90,8.82 629.90,8.82 630.90,8.82 631.90,8.81 632.90,8.81 633.90,8.81 634.90,8.81 635.90,8.81 636.90,8.80 637.90,8.80 638.90,8.80 639.90,8.80 640.90,8.79 641.90,8.79 642.90,8.79 643.90,8.79 644.90,8.79 645.90,8.78 646.90,8.78 647.90,8.78 648.90,8.78 649.90,8.78 650.90,8.77 651.90,8.77 652.90,8.77 653.90,8.77 654.90,8.77 655.90,8.76 656.90,8.76 657.90,8.76 658.90,8.76 659.90,8.76 660.90,8.75 661.90,8.75 662.90,8.75 663.90,8.75 664.80,8.75" fill="none" stroke="#00ffff" stroke-width="5.2" stroke-linejoin="round" stroke-linecap="butt"/>
<polyline points="56.70,8.11 57.70,8.11 58.70,8.11 59.70,8.11 60.70,8.11 61.70,8.11 62.70,8.11 63.70,8.11 64.70,8.11 65.70,8.11 66.70,8.11 67.70,8.11 68.70,8.10 69.70,8.10 70.70,8.10 71.70,8.10 72.70,8.10 73.70,8.10 74.70,8.10 75.70,8.10 76.70,8.10 77.70,8.10 78.70,8.10 79.70,8.10 80.70,8.10 81.70,8.10 82.70,8.10 83.70,8.10 84.70,8.10 85.70,8.10 86.70,8.10 87.70,8.10 88.70,8.10 89.70,8.10 90.70,8.10 91.70,8.10 92.70,8.09 93.70,8.09 94.70,8.09 95.70,8.09 96.70,8.09 97.70,8.09 98.70,8.09 99.70,8.09 100.70,8.09 101.70,8.09 102.70,8.09 103.70,8.09 104.70,8.09 105.70,8.09 106.70,8.09 107.70,8.09 108.70,8.09 109.70,8.09 110.70,8.09 111.70,8.09 112.70,8.09 113.70,8.08 114.70,8.08 115.70,8.08 116.70,8.08 117.70,8.08 118.70,8.08 119.70,8.08 120.70,8.08 121.70,8.08 122.70,8.08 123.70,8.08 124.70,8.08 125.70,8.08 126.70,8.08 127.70,8.08 128.70,8.08 129.70,8.08 130.70,8.08 131.70,8.08 132.70,8.07 133.70,8.07 134.70,8.07 135.70,8.07 136.70,8.07 137.70,8.07 138.70,8.07 139.70,8.07 140.70,8.07 141.70,8.07 142.70,8.07 143.70,8.07 144.70,8.07 145.70,8.07 146.70,8.07 147.70,8.07 148.70,8.07 149.70,8.06 150.70,8.06 151.70,8.06 152.70,8.06 153.70,8.06 154.70,8.06 155.70,8.06 156.70,8.06 157.70,8.06 158.70,8.06 159.70,8.06 160.70,8.06 161.70,8.06 162.70,8.06 163.70,8.06 164.70,8.06 165.70,8.05 166.70,8.05 167.70,8.05 168.70,8.05 169.70,8.05 170.70,8.05 171.70,8.05 172.70,8.05 173.70,8.05 174.70,8.05 175.70,8.05 176.70,8.05 177.70,8.05 178.70,8.05 179.70,8.04 180.70,8.04 181.70,8.04 182.70,8.04 183.70,8.04 184.70,8.04 185.70,8.04 186.70,8.04 187.70,8.04 188.70,8.04 189.70,8.04 190.70,8.04 191.70,8.04 192.70,8.03 193.70,8.03 194.70,8.03 195.70,8.03 196.70,8.03 197.70,8.03 198.70,8.03 199.70,8.03 200.70,8.03 201.70,8.03 202.70,8.03 203.70,8.03 204.70,8.02 205.70,8.02 206.70,8.02 207.70,8.02 208.70,8.02 209.70,8.02 210.70,8.02 211.70,8.02 212.70,8.02 213.70,8.02 214.70,8.01 215.70,8.01 216.70,8.01 217.70,8.01 218.70,8.01 219.70,8.01 220.70,8.01 221.70,8.01 222.70,8.01 223.70,8.01 224.70,8.01 225.70,8.00 226.70,8.00 227.70,8.00 228.70,8.00 229.70,8.00 230.70,8.00 231.70,8.00 232.70,8.00 233.70,8.00 234.70,7.99 235.70,7.99 236.70,7.99 237.70,7.99 238.70,7.99 239.70,7.99 240.70,7.99 241.70,7.99 242.70,7.98 243.70,7.98 244.70,7.98 245.70,7.98 246.70,7.98 247.70,7.98 248.70,7.98 249.70,7.98 250.70,7.98 251.70,7.97 252.70,7.97 253.70,7.97 254.70,7.97 255.70,7.97 256.70,7.97 257.70,7.97 258.70,7.96 259.70,7.96 260.70,7.96 261.70,7.96 262.70,7.96 263.70,7.96 264.70,7.96 265.70,7.95 266.70,7.95 267.70,7.95 268.70,7.95 269.70,7.95 270.70,7.95 271.70,7.95 272.70,7.94 273.70,7.94 274.70,7.94 275.70,7.94 276.70,7.94 277.70,7.94 278.70,7.93 279.70,7.93 280.70,7.93 281.70,7.93 282.70,7.93 283.70,7.93 284.70,7.92 285.70,7.92 286.70,7.92 287.70,7.92 288.70,7.92 289.70,7.91 290.70,7.91 291.70,7.91 292.70,7.91 293.70,7.91 294.70,7.91 295.70,7.90 296.70,7.90 297.70,7.90 298.70,7.90 299.70,7.89 300.70,7.89 301.70,7.89 302.70,7.89 303.70,7.89 304.70,7.88 305.70,7.88 306.70,7.88 307.70,7.88 308.70,7.88 309.70,7.87 310.70,7.87 311.70,7.87 312.70,7.87 313.70,7.86 314.70,7.86 315.70,7.86 316.70,7.86 317.70,7.85 318.70,7.85 319.70,7.85 320.70,7.85 321.70,7.84 322.70,7.84 323.70,7.84 324.70,7.84 325.70,7.83 326.70,7.83 327.70,7.83 328.70,7.82 329.70,7.82 330.70,7.82 331.70,7.81 332.70,7.81 333.70,7.81 334.70,7.81 335.70,7.80 336.70,7.80 337.70,7.80 338.70,7.79 339.70,7.79 340.70,7.79 341.70,7.78 342.70,7.78 343.70,7.78 344.70,7.77 345.70,7.77 346.70,7.76 347.70,7.76 348.70,7.76 349.70,7.75 350.70,7.75 351.70,7.75 352.70,7.74 353.70,7.74 354.70,7.73 355.70,7.73 356.70,7.73 357.70,7.72 358.70,7.72 359.70,7.71 360.70,7.71 361.70,7.70 362.70,7.70 363.70,7.69 364.70,7.69 365.70,7.68 366.70,7.68 367.70,7.67 368.70,7.67 369.70,7.66 370.70,7.66 371.70,7.65 372.70,7.65 373.70,7.64 374.70,7.64 375.70,7.63 376.70,7.63 377.70,7.62 378.70,7.62 379.70,7.61 380.70,7.60 381.70,7.60 382.70,7.59 383.70,7.59 384.70,7.58 385.70,7.57 386.70,7.57 387.70,7.56 388.70,7.55 389.70,7.55 390.70,7.54 391.70,7.53 392.70,7.53 393.70,7.52 394.70,7.51 395.70,7.51 396.70,7.50 397.70,7.49 398.70,7.49 399.70,7.48 400.70,7.47 401.70,7.47 402.70,7.46 403.70,7.45 404.70,7.45 405.70,7.44 406.70,7.43 407.70,7.43 408.70,7.42 409.70,7.41 410.70,7.41 411.70,7.40 412.70,7.40 413.70,7.39 414.70,7.39 415.70,7.38 416.70,7.38 417.70,7.38 418.70,7.38 419.70,7.38 419.80,7.38 420.00,7.38 420.20,7.38 420.40,7.38 420.60,7.38 420.80,7.38 421.00,7.38 421.20,7.38 421.40,7.38 421.60,7.38 421.80,7.38 422.00,7.38 422.20,7.38 422.40,7.38 422.60,7.38 422.80,7.38 423.00,7.39 423.20,7.39 423.40,7.39 423.60,7.39 423.80,7.39 424.00,7.39 424.20,7.39 424.40,7.40 424.60,7.40 424.80,7.40 425.00,7.40 425.20,7.40 425.40,7.40 425.60,7.41 425.80,7.41 426.00,7.41 426.20,7.41 426.40,7.42 426.60,7.42 426.80,7.42 427.00,7.43 427.20,7.43 427.40,7.43 427.60,7.44 427.80,7.44 428.00,7.44 428.20,7.45 428.40,7.45 428.60,7.46 428.80,7.46 429.00,7.46 429.20,7.47 429.40,7.47 429.60,7.48 429.80,7.48 430.00,7.49 430.20,7.50 430.40,7.50 430.60,7.51 430.80,7.51 431.00,7.52 431.20,7.53 431.40,7.54 431.60,7.54 431.80,7.55 432.00,7.56 432.20,7.57 432.40,7.58 432.60,7.58 432.80,7.59 433.00,7.60 433.20,7.61 433.40,7.62 433.60,7.63 433.80,7.64 434.00,7.66 434.20,7.67 434.40,7.68 434.60,7.69 434.80,7.71 435.00,7.72 435.20,7.73 435.40,7.75 435.60,7.76 435.80,7.78 436.00,7.79 436.20,7.81 436.40,7.83 436.60,7.84 436.80,7.86 437.00,7.88 437.20,7.90 437.40,7.92 437.60,7.94 437.80,7.96 438.00,7.99 438.20,8.01 438.40,8.03 438.60,8.06 438.80,8.08 439.00,8.11 439.20,8.14 439.40,8.17 439.60,8.20 439.80,8.23 440.00,8.26 440.20,8.29 440.40,8.32 440.60,8.36 440.80,8.40 441.00,8.43 441.20,8.47 441.40,8.51 441.60,8.55 441.80,8.60 442.00,8.64 442.20,8.69 442.40,8.74 442.60,8.79 442.80,8.84 443.00,8.90 443.20,8.95 443.40,9.01 443.60,9.07 443.80,9.13 444.00,9.20 444.20,9.27 444.40,9.34 444.60,9.41 444.80,9.49 445.00,9.57 445.20,9.65 445.40,9.74 445.60,9.83 445.80,9.93 446.00,10.03 446.20,10.13 446.40,10.24 446.60,10.35 446.80,10.47 447.00,10.59 447.20,10.72 447.40,10.85 447.60,10.99 447.80,11.14 448.00,11.30 448.20,11.46 448.40,11.63 448.60,11.81 448.80,12.00 449.00,12.20 449.20,12.41 449.40,12.64 449.60,12.87 449.80,13.12 450.00,13.38 450.20,13.66 450.40,13.95 450.60,14.26 450.80,14.60 451.00,14.95 451.20,15.33 451.40,15.73 451.60,16.16 451.80,16.62 452.00,17.11 452.20,17.64 452.40,18.21 452.60,18.82 452.80,19.48 453.00,20.20 453.20,20.97 453.40,21.82 453.60,22.73 453.80,23.74 454.00,24.83 454.20,26.03 454.40,27.35 454.60,28.81 454.80,30.43 455.00,32.22 455.20,34.22 455.40,36.45 455.60,38.95 455.80,41.77 456.00,44.96 456.20,48.58 456.40,52.71 456.60,57.43 456.80,62.87 457.00,69.13 457.20,76.39 457.40,84.82 457.60,94.62 457.80,106.03 458.00,119.27 458.20,134.55 458.40,151.98 458.60,171.49 458.80,192.66 459.00,214.53 459.20,235.48 459.40,253.25 459.60,265.32 459.80,269.64 460.00,268.02 460.20,262.62 460.40,253.93 460.60,242.64 460.80,229.53 461.00,215.39 461.20,200.86 461.40,186.47 461.60,172.60 461.80,159.50 462.00,147.30 462.20,136.07 462.40,125.80 462.60,116.48 462.80,108.03 463.00,100.39 463.20,93.50 463.40,87.28 463.60,81.66 463.80,76.59 464.00,72.00 464.20,67.84 464.40,64.07 464.60,60.64 464.80,57.51 465.00,54.66 465.20,52.05 465.40,49.67 465.60,47.48 465.80,45.46 466.00,43.61 466.20,41.90 466.40,40.31 466.60,38.85 466.80,37.49 467.00,36.23 467.20,35.05 467.40,33.95 467.60,32.93 467.80,31.97 468.00,31.08 468.20,30.24 468.40,29.45 468.60,28.71 468.80,28.01 469.00,27.35 469.20,26.73 469.40,26.14 469.60,25.59 469.80,25.06 470.00,24.57 470.20,24.09 470.40,23.65 470.60,23.22 470.80,22.82 471.00,22.43 471.20,22.06 471.40,21.71 471.60,21.38 471.80,21.06 472.00,20.75 472.20,20.46 472.40,20.18 472.60,19.91 472.80,19.65 473.00,19.41 473.20,19.17 473.40,18.94 473.60,18.72 473.80,18.51 474.00,18.31 474.20,18.12 474.40,17.93 474.60,17.75 474.80,17.57 475.00,17.41 475.20,17.24 475.40,17.09 475.60,16.93 475.80,16.79 476.00,16.65 476.20,16.51 476.40,16.37 476.60,16.25 476.80,16.12 477.00,16.00 477.20,15.88 477.40,15.77 477.60,15.66 477.80,15.55 478.00,15.45 478.20,15.35 478.40,15.25 478.60,15.15 478.80,15.06 479.00,14.97 479.20,14.88 479.40,14.79 479.60,14.71 479.80,14.63 480.00,14.55 480.20,14.47 480.40,14.40 480.60,14.33 480.80,14.25 481.00,14.18 481.20,14.12 481.40,14.05 481.60,13.98 481.80,13.92 482.00,13.86 482.20,13.80 482.40,13.74 482.60,13.68 482.80,13.62 483.00,13.57 483.20,13.51 483.40,13.46 483.60,13.41 483.80,13.36 484.00,13.31 484.20,13.26 484.40,13.21 484.60,13.17 484.80,13.12 485.00,13.07 485.20,13.03 485.40,12.99 485.60,12.94 485.80,12.90 486.00,12.86 486.20,12.82 486.40,12.78 486.60,12.74 486.80,12.71 487.00,12.67 487.20,12.63 487.40,12.60 487.60,12.56 487.80,12.53 488.00,12.49 488.20,12.46 488.40,12.43 488.60,12.39 488.80,12.36 489.00,12.33 489.20,12.30 489.40,12.27 489.60,12.24 489.80,12.21 490.00,12.18 490.20,12.15 490.40,12.13 490.60,12.10 490.80,12.07 491.00,12.05 491.20,12.02 491.40,11.99 491.60,11.97 491.80,11.94 492.00,11.92 492.20,11.89 492.40,11.87 492.60,11.85 492.80,11.82 493.00,11.80 493.20,11.78 493.40,11.75 493.60,11.73 493.80,11.71 494.00,11.69 494.20,11.67 494.40,11.65 494.60,11.63 494.80,11.61 495.00,11.59 495.20,11.57 495.40,11.55 495.60,11.53 495.80,11.51 496.00,11.49 496.20,11.47 496.40,11.45 496.60,11.44 496.80,11.42 497.00,11.40 497.20,11.38 497.40,11.36 497.60,11.35 497.80,11.33 498.00,11.31 498.20,11.30 498.40,11.28 498.60,11.27 498.80,11.25 499.00,11.23 499.20,11.22 499.40,11.20 499.60,11.19 499.80,11.17 500.00,11.16 500.20,11.14 500.40,11.13 500.60,11.12 500.80,11.10 501.00,11.09 501.20,11.07 501.40,11.06 501.60,11.05 501.80,11.03 502.00,11.02 502.20,11.01 502.40,10.99 502.60,10.98 502.80,10.97 503.00,10.95 503.20,10.94 503.40,10.93 503.60,10.92 503.80,10.91 504.00,10.89 504.20,10.88 504.40,10.87 504.60,10.86 504.80,10.85 505.00,10.84 505.20,10.82 505.40,10.81 505.60,10.80 505.80,10.79 506.00,10.78 506.20,10.77 506.40,10.76 506.60,10.75 506.80,10.74 507.00,10.73 507.20,10.72 507.40,10.71 507.60,10.70 507.80,10.69 508.00,10.68 508.20,10.67 508.40,10.66 508.60,10.65 508.80,10.64 509.00,10.63 509.20,10.62 509.40,10.61 509.60,10.60 509.80,10.59 510.00,10.58 510.20,10.57 510.40,10.56 510.60,10.55 510.80,10.55 511.00,10.54 511.20,10.53 511.40,10.52 511.60,10.51 511.80,10.50 512.00,10.49 512.20,10.49 512.40,10.48 512.60,10.47 512.80,10.46 513.00,10.45 513.20,10.45 513.40,10.44 513.60,10.43 513.80,10.42 514.00,10.41 514.20,10.41 514.40,10.40 514.60,10.39 514.80,10.38 515.00,10.38 515.20,10.37 515.40,10.36 515.60,10.35 515.80,10.35 516.00,10.34 516.20,10.33 516.40,10.33 516.60,10.32 516.80,10.31 517.00,10.31 517.20,10.30 517.40,10.29 517.60,10.28 517.80,10.28 518.00,10.27 518.20,10.26 518.40,10.26 518.60,10.25 518.80,10.25 519.00,10.24 519.20,10.23 519.40,10.23 519.60,10.22 519.80,10.21 520.80,10.18 521.80,10.15 522.80,10.12 523.80,10.10 524.80,10.07 525.80,10.04 526.80,10.02 527.80,9.99 528.80,9.97 529.80,9.95 530.80,9.92 531.80,9.90 532.80,9.88 533.80,9.86 534.80,9.84 535.80,9.82 536.80,9.80 537.80,9.78 538.80,9.77 539.80,9.75 540.80,9.73 541.80,9.71 542.80,9.70 543.80,9.68 544.80,9.67 545.80,9.65 546.80,9.63 547.80,9.62 548.80,9.61 549.80,9.59 550.80,9.58 551.80,9.56 552.80,9.55 553.80,9.54 554.80,9.53 555.80,9.51 556.80,9.50 557.80,9.49 558.80,9.48 559.80,9.47 560.80,9.46 561.80,9.44 562.80,9.43 563.80,9.42 564.80,9.41 565.80,9.40 566.80,9.39 567.80,9.38 568.80,9.37 569.80,9.36 570.80,9.35 571.80,9.35 572.80,9.34 573.80,9.33 574.80,9.32 575.80,9.31 576.80,9.30 577.80,9.29 578.80,9.29 579.80,9.28 580.80,9.27 581.80,9.26 582.80,9.25 583.80,9.25 584.80,9.24 585.80,9.23 586.80,9.23 587.80,9.22 588.80,9.21 589.80,9.20 590.80,9.20 591.80,9.19 592.80,9.18 593.80,9.18 594.80,9.17 595.80,9.17 596.80,9.16 597.80,9.15 598.80,9.15 599.80,9.14 600.80,9.14 601.80,9.13 602.80,9.12 603.80,9.12 604.80,9.11 605.80,9.11 606.80,9.10 607.80,9.10 608.80,9.09 609.80,9.09 610.80,9.08 611.80,9.08 612.80,9.07 613.80,9.07 614.80,9.06 615.80,9.06 616.80,9.05 617.80,9.05 618.80,9.04 619.80,9.04 620.80,9.03 621.80,9.03 622.80,9.02 623.80,9.02 624.80,9.02 625.80,9.01 626.80,9.01 627.80,9.00 628.80,9.00 629.80,8.99 630.80,8.99 631.80,8.99 632.80,8.98 633.80,8.98 634.80,8.97 635.80,8.97 636.80,8.97 637.80,8.96 638.80,8.96 639.80,8.96 640.80,8.95 641.80,8.95 642.80,8.94 643.80,8.94 644.80,8.94 645.80,8.93 646.80,8.93 647.80,8.93 648.80,8.92 649.80,8.92 650.80,8.92 651.80,8.91 652.80,8.91 653.80,8.91 654.80,8.91 655.80,8.90 656.80,8.90 657.80,8.90 658.80,8.89 659.80,8.89 660.80,8.89 661.80,8.88 662.80,8.88 663.80,8.88 664.80,8.88" fill="none" stroke="#ff00ff" stroke-width="5.2" stroke-linejoin="round" stroke-linecap="butt"/>
<g font-family="Liberation Sans, sans-serif" font-size="17.5" fill="#262626" stroke="#262626"><text x="56.70" y="296.2" text-anchor="middle">2020</text><text x="132.72" y="296.2" text-anchor="middle">2030</text><text x="208.74" y="296.2" text-anchor="middle">2040</text><text x="284.76" y="296.2" text-anchor="middle">2050</text><text x="360.78" y="296.2" text-anchor="middle">2060</text><text x="436.80" y="296.2" text-anchor="middle">2070</text><text x="512.82" y="296.2" text-anchor="middle">2080</text><text x="588.84" y="296.2" text-anchor="middle">2090</text><text x="664.86" y="296.2" text-anchor="middle">2<tspan class="o">1</tspan>00</text><text x="51.4" y="280.25" text-anchor="end">0</text><text x="51.4" y="226.99" text-anchor="end">20</text><text x="51.4" y="173.73" text-anchor="end">40</text><text x="51.4" y="120.47" text-anchor="end">60</text><text x="51.4" y="67.21" text-anchor="end">80</text><text x="51.4" y="13.95" text-anchor="end"><tspan class="o">1</tspan>00</text></g>
<text x="361.68" y="319.6" text-anchor="middle" font-family="Liberation Sans, sans-serif" font-size="19.5" fill="#262626" stroke="#262626">Wavelength (nm)</text>
<text transform="translate(16.2,139.15) rotate(-90)" text-anchor="middle" font-family="Liberation Sans, sans-serif" font-size="19.5" fill="#262626" stroke="#262626">Reflectance(%)</text>
<rect x="496.2" y="33.2" width="135.80" height="169.30" fill="#fff" stroke="#262626" stroke-width="4"/>
<line x1="504.9" y1="48.40" x2="526.1" y2="48.40" stroke="#000000" stroke-width="5.2"/>
<text x="527.6" y="51.40" font-family="Liberation Sans, sans-serif" font-size="15.75" fill="#000" stroke="#000">n<tspan font-size="12.5" dy="7.4" dx="0.4">gas</tspan><tspan dy="-7.4" dx="0.4" font-size="15.75">=<tspan class="o">1</tspan>.00026</tspan></text>
<line x1="504.9" y1="76.22" x2="526.1" y2="76.22" stroke="#ff0000" stroke-width="5.2"/>
<text x="527.6" y="79.22" font-family="Liberation Sans, sans-serif" font-size="15.75" fill="#000" stroke="#000">n<tspan font-size="12.5" dy="7.4" dx="0.4">gas</tspan><tspan dy="-7.4" dx="0.4" font-size="15.75">=<tspan class="o">1</tspan>.00030</tspan></text>
<line x1="504.9" y1="104.04" x2="526.1" y2="104.04" stroke="#0000ff" stroke-width="5.2"/>
<text x="527.6" y="107.04" font-family="Liberation Sans, sans-serif" font-size="15.75" fill="#000" stroke="#000">n<tspan font-size="12.5" dy="7.4" dx="0.4">gas</tspan><tspan dy="-7.4" dx="0.4" font-size="15.75">=<tspan class="o">1</tspan>.00034</tspan></text>
<line x1="504.9" y1="131.86" x2="526.1" y2="131.86" stroke="#00ff00" stroke-width="5.2"/>
<text x="527.6" y="134.86" font-family="Liberation Sans, sans-serif" font-size="15.75" fill="#000" stroke="#000">n<tspan font-size="12.5" dy="7.4" dx="0.4">gas</tspan><tspan dy="-7.4" dx="0.4" font-size="15.75">=<tspan class="o">1</tspan>.00038</tspan></text>
<line x1="504.9" y1="159.68" x2="526.1" y2="159.68" stroke="#00ffff" stroke-width="5.2"/>
<text x="527.6" y="162.68" font-family="Liberation Sans, sans-serif" font-size="15.75" fill="#000" stroke="#000">n<tspan font-size="12.5" dy="7.4" dx="0.4">gas</tspan><tspan dy="-7.4" dx="0.4" font-size="15.75">=<tspan class="o">1</tspan>.00042</tspan></text>
<line x1="504.9" y1="187.50" x2="526.1" y2="187.50" stroke="#ff00ff" stroke-width="5.2"/>
<text x="527.6" y="190.50" font-family="Liberation Sans, sans-serif" font-size="15.75" fill="#000" stroke="#000">n<tspan font-size="12.5" dy="7.4" dx="0.4">gas</tspan><tspan dy="-7.4" dx="0.4" font-size="15.75">=<tspan class="o">1</tspan>.00046</tspan></text>
<path transform="translate(655.126,296.000) scale(0.008545,-0.008359)" fill="rgb(38, 38, 38)" stroke="rgb(38, 38, 38)" stroke-width="0.25" vector-effect="non-scaling-stroke" d="M763,0L583,0L583,1147Q518,1085 412.5,1023Q307,961 223,930L223,1104Q374,1175 487.5,1276Q601,1377 647,1472L763,1472Z"/>
<path transform="translate(22.197,14.000) scale(0.008545,-0.008359)" fill="rgb(38, 38, 38)" stroke="rgb(38, 38, 38)" stroke-width="0.25" vector-effect="non-scaling-stroke" d="M763,0L583,0L583,1147Q518,1085 412.5,1023Q307,961 223,930L223,1104Q374,1175 487.5,1276Q601,1377 647,1472L763,1472Z"/>
<path transform="translate(566.525,51.000) scale(0.007690,-0.007523)" fill="rgb(0, 0, 0)" stroke="rgb(0, 0, 0)" stroke-width="0.25" vector-effect="non-scaling-stroke" d="M763,0L583,0L583,1147Q518,1085 412.5,1023Q307,961 223,930L223,1104Q374,1175 487.5,1276Q601,1377 647,1472L763,1472Z"/>
<path transform="translate(566.525,79.000) scale(0.007690,-0.007523)" fill="rgb(0, 0, 0)" stroke="rgb(0, 0, 0)" stroke-width="0.25" vector-effect="non-scaling-stroke" d="M763,0L583,0L583,1147Q518,1085 412.5,1023Q307,961 223,930L223,1104Q374,1175 487.5,1276Q601,1377 647,1472L763,1472Z"/>
<path transform="translate(566.525,107.000) scale(0.007690,-0.007523)" fill="rgb(0, 0, 0)" stroke="rgb(0, 0, 0)" stroke-width="0.25" vector-effect="non-scaling-stroke" d="M763,0L583,0L583,1147Q518,1085 412.5,1023Q307,961 223,930L223,1104Q374,1175 487.5,1276Q601,1377 647,1472L763,1472Z"/>
<path transform="translate(566.525,135.000) scale(0.007690,-0.007523)" fill="rgb(0, 0, 0)" stroke="rgb(0, 0, 0)" stroke-width="0.25" vector-effect="non-scaling-stroke" d="M763,0L583,0L583,1147Q518,1085 412.5,1023Q307,961 223,930L223,1104Q374,1175 487.5,1276Q601,1377 647,1472L763,1472Z"/>
<path transform="translate(566.525,163.000) scale(0.007690,-0.007523)" fill="rgb(0, 0, 0)" stroke="rgb(0, 0, 0)" stroke-width="0.25" vector-effect="non-scaling-stroke" d="M763,0L583,0L583,1147Q518,1085 412.5,1023Q307,961 223,930L223,1104Q374,1175 487.5,1276Q601,1377 647,1472L763,1472Z"/>
<path transform="translate(566.525,191.000) scale(0.007690,-0.007523)" fill="rgb(0, 0, 0)" stroke="rgb(0, 0, 0)" stroke-width="0.25" vector-effect="non-scaling-stroke" d="M763,0L583,0L583,1147Q518,1085 412.5,1023Q307,961 223,930L223,1104Q374,1175 487.5,1276Q601,1377 647,1472L763,1472Z"/>
</g>
</svg>
</body></html>
